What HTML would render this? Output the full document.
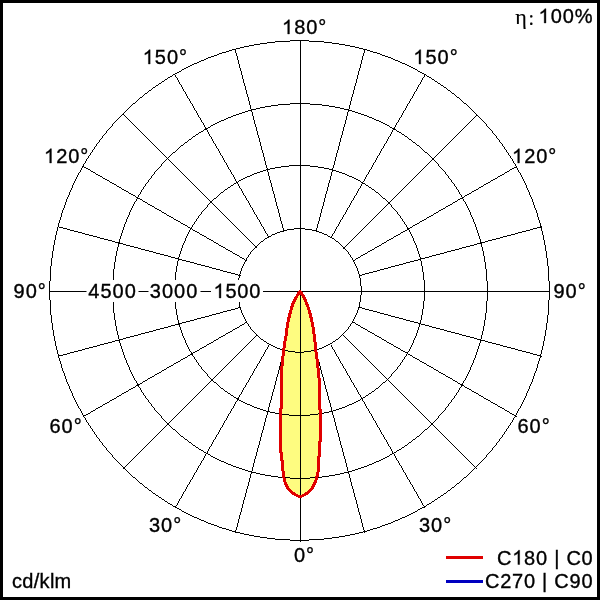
<!DOCTYPE html>
<html><head><meta charset="utf-8"><style>
html,body{margin:0;padding:0;background:#fff;}
body{width:600px;height:600px;overflow:hidden;position:relative;}
svg{position:absolute;left:0;top:0;will-change:transform;}
text{font-family:"Liberation Sans",sans-serif;fill:#000;stroke:#000;stroke-width:0.35px;}
.h{fill:none;stroke:none;}
</style></head><body>
<svg width="600" height="600" viewBox="0 0 600 600">
<rect x="0" y="0" width="600" height="600" fill="#fff"/>
<path d="M300 291.2L296.96 296L294.8 300L292.8 304L291.6 308L290.4 312L289.4 316L288.4 320L287.6 324L287 328L286.4 332L286 336L285.2 340L284.6 344L284 348L283.6 352L283 356L282.6 360L282.2 364L281.8 368L281.5 372L281.5 408L280.5 409L280.5 452L281.5 453L281.5 460L282.5 461L282.5 468L283.2 472L283.6 476L284.4 480L285.6 484L287.6 488L291.2 492L295.2 494.6L300 497L304.8 494.6L308.8 492L312.4 488L314.4 484L316 480L317.2 476L318 472L318.5 468L318.5 457L319.5 456L319.5 442L320.5 441L320.5 410L319.5 409L319.5 384L319.2 380L318.8 376L318.4 372L318 368L317.6 364L317.2 360L316.6 356L316 352L315.6 348L315.2 344L314.8 340L314.2 336L313.8 332L313.2 328L312.4 324L311.6 320L310.6 316L309.6 312L308.4 308L306.8 304L305.2 300L303.2 296Z" fill="#fefc80"/>
<path d="M290 40h19v1h-19zM275 41h15v1h-15zM300 41h1v1h-1zM309 41h15v1h-15zM267 42h8v1h-8zM300 42h1v1h-1zM324 42h8v1h-8zM260 43h7v1h-7zM300 43h1v1h-1zM332 43h7v1h-7zM254 44h6v1h-6zM300 44h1v1h-1zM339 44h6v1h-6zM249 45h5v1h-5zM300 45h1v1h-1zM345 45h5v1h-5zM244 46h5v1h-5zM300 46h1v1h-1zM350 46h5v1h-5zM240 47h4v1h-4zM300 47h1v1h-1zM355 47h4v1h-4zM236 48h4v1h-4zM300 48h1v1h-1zM359 48h4v1h-4zM232 49h4v1h-4zM300 49h1v1h-1zM363 49h4v1h-4zM229 50h3v1h-3zM235 50h1v1h-1zM300 50h1v1h-1zM364 50h1v1h-1zM367 50h3v1h-3zM226 51h3v1h-3zM235 51h1v1h-1zM300 51h1v1h-1zM364 51h1v1h-1zM370 51h3v1h-3zM222 52h4v1h-4zM235 52h1v1h-1zM300 52h1v1h-1zM364 52h1v1h-1zM373 52h4v1h-4zM219 53h3v1h-3zM236 53h1v1h-1zM300 53h1v1h-1zM363 53h1v1h-1zM377 53h3v1h-3zM217 54h2v1h-2zM236 54h1v1h-1zM300 54h1v1h-1zM363 54h1v1h-1zM380 54h2v1h-2zM214 55h3v1h-3zM236 55h1v1h-1zM300 55h1v1h-1zM363 55h1v1h-1zM382 55h3v1h-3zM211 56h3v1h-3zM237 56h1v1h-1zM300 56h1v1h-1zM362 56h1v1h-1zM385 56h3v1h-3zM208 57h3v1h-3zM237 57h1v1h-1zM300 57h1v1h-1zM362 57h1v1h-1zM388 57h3v1h-3zM206 58h2v1h-2zM237 58h1v1h-1zM300 58h1v1h-1zM362 58h1v1h-1zM391 58h2v1h-2zM204 59h2v1h-2zM237 59h1v1h-1zM300 59h1v1h-1zM362 59h1v1h-1zM393 59h2v1h-2zM201 60h3v1h-3zM238 60h1v1h-1zM300 60h1v1h-1zM361 60h1v1h-1zM395 60h3v1h-3zM199 61h2v1h-2zM238 61h1v1h-1zM300 61h1v1h-1zM361 61h1v1h-1zM398 61h2v1h-2zM197 62h2v1h-2zM238 62h1v1h-1zM300 62h1v1h-1zM361 62h1v1h-1zM400 62h2v1h-2zM194 63h3v1h-3zM238 63h1v1h-1zM300 63h1v1h-1zM361 63h1v1h-1zM402 63h3v1h-3zM192 64h2v1h-2zM239 64h1v1h-1zM300 64h1v1h-1zM360 64h1v1h-1zM405 64h2v1h-2zM190 65h2v1h-2zM239 65h1v1h-1zM300 65h1v1h-1zM360 65h1v1h-1zM407 65h2v1h-2zM188 66h2v1h-2zM239 66h1v1h-1zM300 66h1v1h-1zM360 66h1v1h-1zM409 66h2v1h-2zM186 67h2v1h-2zM239 67h1v1h-1zM300 67h1v1h-1zM360 67h1v1h-1zM411 67h2v1h-2zM184 68h2v1h-2zM240 68h1v1h-1zM300 68h1v1h-1zM359 68h1v1h-1zM413 68h2v1h-2zM182 69h2v1h-2zM240 69h1v1h-1zM300 69h1v1h-1zM359 69h1v1h-1zM415 69h2v1h-2zM181 70h1v1h-1zM240 70h1v1h-1zM300 70h1v1h-1zM359 70h1v1h-1zM417 70h1v1h-1zM179 71h2v1h-2zM241 71h1v1h-1zM300 71h1v1h-1zM358 71h1v1h-1zM418 71h2v1h-2zM177 72h2v1h-2zM241 72h1v1h-1zM300 72h1v1h-1zM358 72h1v1h-1zM420 72h2v1h-2zM175 73h2v1h-2zM241 73h1v1h-1zM300 73h1v1h-1zM358 73h1v1h-1zM422 73h2v1h-2zM173 74h2v1h-2zM241 74h1v1h-1zM300 74h1v1h-1zM358 74h1v1h-1zM424 74h2v1h-2zM172 75h1v1h-1zM175 75h1v1h-1zM242 75h1v1h-1zM300 75h1v1h-1zM357 75h1v1h-1zM424 75h1v1h-1zM426 75h1v1h-1zM170 76h2v1h-2zM175 76h1v1h-1zM242 76h1v1h-1zM300 76h1v1h-1zM357 76h1v1h-1zM424 76h1v1h-1zM427 76h2v1h-2zM168 77h2v1h-2zM176 77h1v1h-1zM242 77h1v1h-1zM300 77h1v1h-1zM357 77h1v1h-1zM423 77h1v1h-1zM429 77h2v1h-2zM167 78h1v1h-1zM177 78h1v1h-1zM242 78h1v1h-1zM300 78h1v1h-1zM357 78h1v1h-1zM422 78h1v1h-1zM431 78h1v1h-1zM165 79h2v1h-2zM177 79h1v1h-1zM243 79h1v1h-1zM300 79h1v1h-1zM356 79h1v1h-1zM422 79h1v1h-1zM432 79h2v1h-2zM164 80h1v1h-1zM178 80h1v1h-1zM243 80h1v1h-1zM300 80h1v1h-1zM356 80h1v1h-1zM421 80h1v1h-1zM434 80h1v1h-1zM162 81h2v1h-2zM178 81h1v1h-1zM243 81h1v1h-1zM300 81h1v1h-1zM356 81h1v1h-1zM421 81h1v1h-1zM435 81h2v1h-2zM161 82h1v1h-1zM179 82h1v1h-1zM243 82h1v1h-1zM300 82h1v1h-1zM356 82h1v1h-1zM420 82h1v1h-1zM437 82h1v1h-1zM159 83h2v1h-2zM179 83h1v1h-1zM244 83h1v1h-1zM300 83h1v1h-1zM355 83h1v1h-1zM420 83h1v1h-1zM438 83h2v1h-2zM158 84h1v1h-1zM180 84h1v1h-1zM244 84h1v1h-1zM300 84h1v1h-1zM355 84h1v1h-1zM419 84h1v1h-1zM440 84h1v1h-1zM156 85h2v1h-2zM181 85h1v1h-1zM244 85h1v1h-1zM300 85h1v1h-1zM355 85h1v1h-1zM418 85h1v1h-1zM441 85h2v1h-2zM155 86h1v1h-1zM181 86h1v1h-1zM245 86h1v1h-1zM300 86h1v1h-1zM354 86h1v1h-1zM418 86h1v1h-1zM443 86h1v1h-1zM153 87h2v1h-2zM182 87h1v1h-1zM245 87h1v1h-1zM300 87h1v1h-1zM354 87h1v1h-1zM417 87h1v1h-1zM444 87h2v1h-2zM152 88h1v1h-1zM182 88h1v1h-1zM245 88h1v1h-1zM300 88h1v1h-1zM354 88h1v1h-1zM417 88h1v1h-1zM446 88h1v1h-1zM151 89h1v1h-1zM183 89h1v1h-1zM245 89h1v1h-1zM300 89h1v1h-1zM354 89h1v1h-1zM416 89h1v1h-1zM447 89h1v1h-1zM149 90h2v1h-2zM183 90h1v1h-1zM246 90h1v1h-1zM300 90h1v1h-1zM353 90h1v1h-1zM416 90h1v1h-1zM448 90h2v1h-2zM148 91h1v1h-1zM184 91h1v1h-1zM246 91h1v1h-1zM300 91h1v1h-1zM353 91h1v1h-1zM415 91h1v1h-1zM450 91h1v1h-1zM147 92h1v1h-1zM185 92h1v1h-1zM246 92h1v1h-1zM300 92h1v1h-1zM353 92h1v1h-1zM414 92h1v1h-1zM451 92h1v1h-1zM145 93h2v1h-2zM185 93h1v1h-1zM246 93h1v1h-1zM300 93h1v1h-1zM353 93h1v1h-1zM414 93h1v1h-1zM452 93h2v1h-2zM144 94h1v1h-1zM186 94h1v1h-1zM247 94h1v1h-1zM300 94h1v1h-1zM352 94h1v1h-1zM413 94h1v1h-1zM454 94h1v1h-1zM143 95h1v1h-1zM186 95h1v1h-1zM247 95h1v1h-1zM300 95h1v1h-1zM352 95h1v1h-1zM413 95h1v1h-1zM455 95h1v1h-1zM142 96h1v1h-1zM187 96h1v1h-1zM247 96h1v1h-1zM300 96h1v1h-1zM352 96h1v1h-1zM412 96h1v1h-1zM456 96h1v1h-1zM140 97h2v1h-2zM187 97h1v1h-1zM248 97h1v1h-1zM300 97h1v1h-1zM351 97h1v1h-1zM412 97h1v1h-1zM457 97h2v1h-2zM139 98h1v1h-1zM188 98h1v1h-1zM248 98h1v1h-1zM300 98h1v1h-1zM351 98h1v1h-1zM411 98h1v1h-1zM459 98h1v1h-1zM138 99h1v1h-1zM189 99h1v1h-1zM248 99h1v1h-1zM300 99h1v1h-1zM351 99h1v1h-1zM410 99h1v1h-1zM460 99h1v1h-1zM137 100h1v1h-1zM189 100h1v1h-1zM248 100h1v1h-1zM300 100h1v1h-1zM351 100h1v1h-1zM410 100h1v1h-1zM461 100h1v1h-1zM136 101h1v1h-1zM190 101h1v1h-1zM249 101h1v1h-1zM300 101h1v1h-1zM350 101h1v1h-1zM409 101h1v1h-1zM462 101h1v1h-1zM135 102h1v1h-1zM190 102h1v1h-1zM249 102h1v1h-1zM300 102h1v1h-1zM350 102h1v1h-1zM409 102h1v1h-1zM463 102h1v1h-1zM133 103h2v1h-2zM191 103h1v1h-1zM249 103h1v1h-1zM290 103h20v1h-20zM350 103h1v1h-1zM408 103h1v1h-1zM464 103h2v1h-2zM132 104h1v1h-1zM192 104h1v1h-1zM249 104h1v1h-1zM278 104h12v1h-12zM300 104h1v1h-1zM310 104h12v1h-12zM350 104h1v1h-1zM407 104h1v1h-1zM466 104h1v1h-1zM131 105h1v1h-1zM192 105h1v1h-1zM250 105h1v1h-1zM271 105h7v1h-7zM300 105h1v1h-1zM322 105h7v1h-7zM349 105h1v1h-1zM407 105h1v1h-1zM467 105h1v1h-1zM130 106h1v1h-1zM193 106h1v1h-1zM250 106h1v1h-1zM265 106h6v1h-6zM300 106h1v1h-1zM329 106h6v1h-6zM349 106h1v1h-1zM406 106h1v1h-1zM468 106h1v1h-1zM129 107h1v1h-1zM193 107h1v1h-1zM250 107h1v1h-1zM260 107h5v1h-5zM300 107h1v1h-1zM335 107h5v1h-5zM349 107h1v1h-1zM406 107h1v1h-1zM469 107h1v1h-1zM128 108h1v1h-1zM194 108h1v1h-1zM250 108h1v1h-1zM256 108h4v1h-4zM300 108h1v1h-1zM340 108h4v1h-4zM349 108h1v1h-1zM405 108h1v1h-1zM470 108h1v1h-1zM127 109h1v1h-1zM194 109h1v1h-1zM251 109h5v1h-5zM300 109h1v1h-1zM344 109h5v1h-5zM405 109h1v1h-1zM471 109h1v1h-1zM126 110h1v1h-1zM195 110h1v1h-1zM248 110h4v1h-4zM300 110h1v1h-1zM348 110h4v1h-4zM404 110h1v1h-1zM472 110h1v1h-1zM125 111h1v1h-1zM196 111h1v1h-1zM245 111h3v1h-3zM251 111h1v1h-1zM300 111h1v1h-1zM348 111h1v1h-1zM352 111h3v1h-3zM403 111h1v1h-1zM473 111h1v1h-1zM124 112h1v1h-1zM196 112h1v1h-1zM242 112h3v1h-3zM252 112h1v1h-1zM300 112h1v1h-1zM347 112h1v1h-1zM355 112h3v1h-3zM403 112h1v1h-1zM474 112h1v1h-1zM123 113h1v1h-1zM197 113h1v1h-1zM239 113h3v1h-3zM252 113h1v1h-1zM300 113h1v1h-1zM347 113h1v1h-1zM358 113h3v1h-3zM402 113h1v1h-1zM475 113h1v1h-1zM122 114h2v1h-2zM197 114h1v1h-1zM236 114h3v1h-3zM252 114h1v1h-1zM300 114h1v1h-1zM347 114h1v1h-1zM361 114h3v1h-3zM402 114h1v1h-1zM476 114h1v1h-1zM121 115h1v1h-1zM124 115h1v1h-1zM198 115h1v1h-1zM233 115h3v1h-3zM252 115h1v1h-1zM300 115h1v1h-1zM347 115h1v1h-1zM364 115h3v1h-3zM401 115h1v1h-1zM476 115h2v1h-2zM120 116h1v1h-1zM125 116h1v1h-1zM198 116h1v1h-1zM231 116h2v1h-2zM253 116h1v1h-1zM300 116h1v1h-1zM346 116h1v1h-1zM367 116h2v1h-2zM401 116h1v1h-1zM475 116h1v1h-1zM478 116h1v1h-1zM119 117h1v1h-1zM126 117h1v1h-1zM199 117h1v1h-1zM228 117h3v1h-3zM253 117h1v1h-1zM300 117h1v1h-1zM346 117h1v1h-1zM369 117h3v1h-3zM400 117h1v1h-1zM474 117h1v1h-1zM479 117h1v1h-1zM118 118h1v1h-1zM127 118h1v1h-1zM200 118h1v1h-1zM226 118h2v1h-2zM253 118h1v1h-1zM300 118h1v1h-1zM346 118h1v1h-1zM372 118h2v1h-2zM399 118h1v1h-1zM473 118h1v1h-1zM480 118h1v1h-1zM117 119h1v1h-1zM128 119h1v1h-1zM200 119h1v1h-1zM224 119h2v1h-2zM253 119h1v1h-1zM300 119h1v1h-1zM346 119h1v1h-1zM374 119h2v1h-2zM399 119h1v1h-1zM472 119h1v1h-1zM481 119h1v1h-1zM116 120h1v1h-1zM129 120h1v1h-1zM201 120h1v1h-1zM221 120h3v1h-3zM254 120h1v1h-1zM300 120h1v1h-1zM345 120h1v1h-1zM376 120h3v1h-3zM398 120h1v1h-1zM471 120h1v1h-1zM482 120h1v1h-1zM115 121h1v1h-1zM130 121h1v1h-1zM201 121h1v1h-1zM219 121h2v1h-2zM254 121h1v1h-1zM300 121h1v1h-1zM345 121h1v1h-1zM379 121h2v1h-2zM398 121h1v1h-1zM470 121h1v1h-1zM483 121h1v1h-1zM114 122h1v1h-1zM131 122h1v1h-1zM202 122h1v1h-1zM217 122h2v1h-2zM254 122h1v1h-1zM300 122h1v1h-1zM345 122h1v1h-1zM381 122h2v1h-2zM397 122h1v1h-1zM469 122h1v1h-1zM484 122h1v1h-1zM113 123h1v1h-1zM132 123h1v1h-1zM203 123h1v1h-1zM215 123h2v1h-2zM254 123h1v1h-1zM300 123h1v1h-1zM345 123h1v1h-1zM383 123h2v1h-2zM396 123h1v1h-1zM468 123h1v1h-1zM485 123h1v1h-1zM112 124h1v1h-1zM133 124h1v1h-1zM203 124h1v1h-1zM213 124h2v1h-2zM255 124h1v1h-1zM300 124h1v1h-1zM344 124h1v1h-1zM385 124h2v1h-2zM396 124h1v1h-1zM467 124h1v1h-1zM486 124h1v1h-1zM112 125h1v1h-1zM134 125h1v1h-1zM204 125h1v1h-1zM211 125h2v1h-2zM255 125h1v1h-1zM300 125h1v1h-1zM344 125h1v1h-1zM387 125h2v1h-2zM395 125h1v1h-1zM466 125h1v1h-1zM486 125h1v1h-1zM111 126h1v1h-1zM135 126h1v1h-1zM204 126h1v1h-1zM210 126h1v1h-1zM255 126h1v1h-1zM300 126h1v1h-1zM344 126h1v1h-1zM389 126h1v1h-1zM395 126h1v1h-1zM465 126h1v1h-1zM487 126h1v1h-1zM110 127h1v1h-1zM136 127h1v1h-1zM205 127h1v1h-1zM208 127h2v1h-2zM256 127h1v1h-1zM300 127h1v1h-1zM343 127h1v1h-1zM390 127h2v1h-2zM394 127h1v1h-1zM464 127h1v1h-1zM488 127h1v1h-1zM109 128h1v1h-1zM137 128h1v1h-1zM205 128h3v1h-3zM256 128h1v1h-1zM300 128h1v1h-1zM343 128h1v1h-1zM392 128h3v1h-3zM463 128h1v1h-1zM489 128h1v1h-1zM108 129h1v1h-1zM138 129h1v1h-1zM204 129h3v1h-3zM256 129h1v1h-1zM300 129h1v1h-1zM343 129h1v1h-1zM393 129h3v1h-3zM462 129h1v1h-1zM490 129h1v1h-1zM107 130h1v1h-1zM139 130h1v1h-1zM203 130h1v1h-1zM207 130h1v1h-1zM256 130h1v1h-1zM300 130h1v1h-1zM343 130h1v1h-1zM392 130h1v1h-1zM396 130h1v1h-1zM461 130h1v1h-1zM491 130h1v1h-1zM106 131h1v1h-1zM140 131h1v1h-1zM201 131h2v1h-2zM207 131h1v1h-1zM257 131h1v1h-1zM300 131h1v1h-1zM342 131h1v1h-1zM392 131h1v1h-1zM397 131h2v1h-2zM460 131h1v1h-1zM492 131h1v1h-1zM106 132h1v1h-1zM141 132h1v1h-1zM199 132h2v1h-2zM208 132h1v1h-1zM257 132h1v1h-1zM300 132h1v1h-1zM342 132h1v1h-1zM391 132h1v1h-1zM399 132h2v1h-2zM459 132h1v1h-1zM492 132h1v1h-1zM105 133h1v1h-1zM142 133h1v1h-1zM198 133h1v1h-1zM208 133h1v1h-1zM257 133h1v1h-1zM300 133h1v1h-1zM342 133h1v1h-1zM391 133h1v1h-1zM401 133h1v1h-1zM458 133h1v1h-1zM493 133h1v1h-1zM104 134h1v1h-1zM143 134h1v1h-1zM196 134h2v1h-2zM209 134h1v1h-1zM257 134h1v1h-1zM300 134h1v1h-1zM342 134h1v1h-1zM390 134h1v1h-1zM402 134h2v1h-2zM457 134h1v1h-1zM494 134h1v1h-1zM103 135h1v1h-1zM144 135h1v1h-1zM195 135h1v1h-1zM209 135h1v1h-1zM258 135h1v1h-1zM300 135h1v1h-1zM341 135h1v1h-1zM390 135h1v1h-1zM404 135h1v1h-1zM456 135h1v1h-1zM495 135h1v1h-1zM102 136h1v1h-1zM145 136h1v1h-1zM193 136h2v1h-2zM210 136h1v1h-1zM258 136h1v1h-1zM300 136h1v1h-1zM341 136h1v1h-1zM389 136h1v1h-1zM405 136h2v1h-2zM455 136h1v1h-1zM496 136h1v1h-1zM102 137h1v1h-1zM146 137h1v1h-1zM192 137h1v1h-1zM211 137h1v1h-1zM258 137h1v1h-1zM300 137h1v1h-1zM341 137h1v1h-1zM388 137h1v1h-1zM407 137h1v1h-1zM454 137h1v1h-1zM496 137h1v1h-1zM101 138h1v1h-1zM147 138h1v1h-1zM191 138h1v1h-1zM211 138h1v1h-1zM259 138h1v1h-1zM300 138h1v1h-1zM340 138h1v1h-1zM388 138h1v1h-1zM408 138h1v1h-1zM453 138h1v1h-1zM497 138h1v1h-1zM100 139h1v1h-1zM148 139h1v1h-1zM189 139h2v1h-2zM212 139h1v1h-1zM259 139h1v1h-1zM300 139h1v1h-1zM340 139h1v1h-1zM387 139h1v1h-1zM409 139h2v1h-2zM452 139h1v1h-1zM498 139h1v1h-1zM99 140h1v1h-1zM149 140h1v1h-1zM188 140h1v1h-1zM212 140h1v1h-1zM259 140h1v1h-1zM300 140h1v1h-1zM340 140h1v1h-1zM387 140h1v1h-1zM411 140h1v1h-1zM451 140h1v1h-1zM499 140h1v1h-1zM99 141h1v1h-1zM150 141h1v1h-1zM187 141h1v1h-1zM213 141h1v1h-1zM259 141h1v1h-1zM300 141h1v1h-1zM340 141h1v1h-1zM386 141h1v1h-1zM412 141h1v1h-1zM450 141h1v1h-1zM499 141h1v1h-1zM98 142h1v1h-1zM151 142h1v1h-1zM185 142h2v1h-2zM213 142h1v1h-1zM260 142h1v1h-1zM300 142h1v1h-1zM339 142h1v1h-1zM386 142h1v1h-1zM413 142h2v1h-2zM449 142h1v1h-1zM500 142h1v1h-1zM97 143h1v1h-1zM152 143h1v1h-1zM184 143h1v1h-1zM214 143h1v1h-1zM260 143h1v1h-1zM300 143h1v1h-1zM339 143h1v1h-1zM385 143h1v1h-1zM415 143h1v1h-1zM448 143h1v1h-1zM501 143h1v1h-1zM96 144h1v1h-1zM153 144h1v1h-1zM183 144h1v1h-1zM215 144h1v1h-1zM260 144h1v1h-1zM300 144h1v1h-1zM339 144h1v1h-1zM384 144h1v1h-1zM416 144h1v1h-1zM447 144h1v1h-1zM502 144h1v1h-1zM96 145h1v1h-1zM154 145h1v1h-1zM181 145h2v1h-2zM215 145h1v1h-1zM260 145h1v1h-1zM300 145h1v1h-1zM339 145h1v1h-1zM384 145h1v1h-1zM417 145h2v1h-2zM446 145h1v1h-1zM502 145h1v1h-1zM95 146h1v1h-1zM155 146h1v1h-1zM180 146h1v1h-1zM216 146h1v1h-1zM261 146h1v1h-1zM300 146h1v1h-1zM338 146h1v1h-1zM383 146h1v1h-1zM419 146h1v1h-1zM445 146h1v1h-1zM503 146h1v1h-1zM94 147h1v1h-1zM156 147h1v1h-1zM179 147h1v1h-1zM216 147h1v1h-1zM261 147h1v1h-1zM300 147h1v1h-1zM338 147h1v1h-1zM383 147h1v1h-1zM420 147h1v1h-1zM444 147h1v1h-1zM504 147h1v1h-1zM94 148h1v1h-1zM157 148h1v1h-1zM178 148h1v1h-1zM217 148h1v1h-1zM261 148h1v1h-1zM300 148h1v1h-1zM338 148h1v1h-1zM382 148h1v1h-1zM421 148h1v1h-1zM443 148h1v1h-1zM504 148h1v1h-1zM93 149h1v1h-1zM158 149h1v1h-1zM177 149h1v1h-1zM218 149h1v1h-1zM261 149h1v1h-1zM300 149h1v1h-1zM338 149h1v1h-1zM381 149h1v1h-1zM422 149h1v1h-1zM442 149h1v1h-1zM505 149h1v1h-1zM92 150h1v1h-1zM159 150h1v1h-1zM176 150h1v1h-1zM218 150h1v1h-1zM262 150h1v1h-1zM300 150h1v1h-1zM337 150h1v1h-1zM381 150h1v1h-1zM423 150h1v1h-1zM441 150h1v1h-1zM506 150h1v1h-1zM92 151h1v1h-1zM160 151h1v1h-1zM175 151h1v1h-1zM219 151h1v1h-1zM262 151h1v1h-1zM300 151h1v1h-1zM337 151h1v1h-1zM380 151h1v1h-1zM424 151h1v1h-1zM440 151h1v1h-1zM506 151h1v1h-1zM91 152h1v1h-1zM161 152h1v1h-1zM173 152h2v1h-2zM219 152h1v1h-1zM262 152h1v1h-1zM300 152h1v1h-1zM337 152h1v1h-1zM380 152h1v1h-1zM425 152h2v1h-2zM439 152h1v1h-1zM507 152h1v1h-1zM90 153h1v1h-1zM162 153h1v1h-1zM172 153h1v1h-1zM220 153h1v1h-1zM263 153h1v1h-1zM300 153h1v1h-1zM336 153h1v1h-1zM379 153h1v1h-1zM427 153h1v1h-1zM438 153h1v1h-1zM508 153h1v1h-1zM90 154h1v1h-1zM163 154h1v1h-1zM171 154h1v1h-1zM220 154h1v1h-1zM263 154h1v1h-1zM300 154h1v1h-1zM336 154h1v1h-1zM379 154h1v1h-1zM428 154h1v1h-1zM437 154h1v1h-1zM508 154h1v1h-1zM89 155h1v1h-1zM164 155h1v1h-1zM170 155h1v1h-1zM221 155h1v1h-1zM263 155h1v1h-1zM300 155h1v1h-1zM336 155h1v1h-1zM378 155h1v1h-1zM429 155h1v1h-1zM436 155h1v1h-1zM509 155h1v1h-1zM88 156h1v1h-1zM165 156h1v1h-1zM169 156h1v1h-1zM222 156h1v1h-1zM263 156h1v1h-1zM300 156h1v1h-1zM336 156h1v1h-1zM377 156h1v1h-1zM430 156h1v1h-1zM435 156h1v1h-1zM510 156h1v1h-1zM88 157h1v1h-1zM166 157h1v1h-1zM168 157h1v1h-1zM222 157h1v1h-1zM264 157h1v1h-1zM300 157h1v1h-1zM335 157h1v1h-1zM377 157h1v1h-1zM431 157h1v1h-1zM434 157h1v1h-1zM510 157h1v1h-1zM87 158h1v1h-1zM167 158h1v1h-1zM223 158h1v1h-1zM264 158h1v1h-1zM300 158h1v1h-1zM335 158h1v1h-1zM376 158h1v1h-1zM432 158h2v1h-2zM511 158h1v1h-1zM86 159h1v1h-1zM166 159h1v1h-1zM168 159h1v1h-1zM223 159h1v1h-1zM264 159h1v1h-1zM300 159h1v1h-1zM335 159h1v1h-1zM376 159h1v1h-1zM432 159h2v1h-2zM512 159h1v1h-1zM86 160h1v1h-1zM165 160h1v1h-1zM169 160h1v1h-1zM224 160h1v1h-1zM264 160h1v1h-1zM300 160h1v1h-1zM335 160h1v1h-1zM375 160h1v1h-1zM431 160h1v1h-1zM434 160h1v1h-1zM512 160h1v1h-1zM85 161h1v1h-1zM164 161h1v1h-1zM170 161h1v1h-1zM224 161h1v1h-1zM265 161h1v1h-1zM300 161h1v1h-1zM334 161h1v1h-1zM375 161h1v1h-1zM430 161h1v1h-1zM435 161h1v1h-1zM513 161h1v1h-1zM85 162h1v1h-1zM163 162h1v1h-1zM171 162h1v1h-1zM225 162h1v1h-1zM265 162h1v1h-1zM300 162h1v1h-1zM334 162h1v1h-1zM374 162h1v1h-1zM429 162h1v1h-1zM436 162h1v1h-1zM513 162h1v1h-1zM84 163h1v1h-1zM162 163h1v1h-1zM172 163h1v1h-1zM226 163h1v1h-1zM265 163h1v1h-1zM300 163h1v1h-1zM334 163h1v1h-1zM373 163h1v1h-1zM428 163h1v1h-1zM437 163h1v1h-1zM514 163h1v1h-1zM83 164h1v1h-1zM161 164h1v1h-1zM173 164h1v1h-1zM226 164h1v1h-1zM265 164h1v1h-1zM300 164h1v1h-1zM334 164h1v1h-1zM373 164h1v1h-1zM427 164h1v1h-1zM438 164h1v1h-1zM515 164h1v1h-1zM83 165h1v1h-1zM161 165h1v1h-1zM174 165h1v1h-1zM227 165h1v1h-1zM266 165h1v1h-1zM289 165h21v1h-21zM333 165h1v1h-1zM372 165h1v1h-1zM426 165h1v1h-1zM438 165h1v1h-1zM515 165h1v1h-1zM82 166h2v1h-2zM160 166h1v1h-1zM175 166h1v1h-1zM227 166h1v1h-1zM266 166h1v1h-1zM281 166h8v1h-8zM300 166h1v1h-1zM310 166h8v1h-8zM333 166h1v1h-1zM372 166h1v1h-1zM425 166h1v1h-1zM439 166h1v1h-1zM516 166h1v1h-1zM82 167h1v1h-1zM84 167h2v1h-2zM159 167h1v1h-1zM176 167h1v1h-1zM228 167h1v1h-1zM266 167h1v1h-1zM275 167h6v1h-6zM300 167h1v1h-1zM318 167h6v1h-6zM333 167h1v1h-1zM371 167h1v1h-1zM424 167h1v1h-1zM440 167h1v1h-1zM514 167h3v1h-3zM81 168h1v1h-1zM86 168h2v1h-2zM158 168h1v1h-1zM177 168h1v1h-1zM228 168h1v1h-1zM267 168h1v1h-1zM270 168h5v1h-5zM300 168h1v1h-1zM324 168h5v1h-5zM332 168h1v1h-1zM371 168h1v1h-1zM423 168h1v1h-1zM441 168h1v1h-1zM512 168h2v1h-2zM517 168h1v1h-1zM81 169h1v1h-1zM88 169h2v1h-2zM157 169h1v1h-1zM178 169h1v1h-1zM229 169h1v1h-1zM266 169h4v1h-4zM300 169h1v1h-1zM329 169h4v1h-4zM370 169h1v1h-1zM422 169h1v1h-1zM442 169h1v1h-1zM510 169h2v1h-2zM517 169h1v1h-1zM80 170h1v1h-1zM90 170h1v1h-1zM156 170h1v1h-1zM179 170h1v1h-1zM230 170h1v1h-1zM263 170h3v1h-3zM267 170h1v1h-1zM300 170h1v1h-1zM332 170h4v1h-4zM369 170h1v1h-1zM421 170h1v1h-1zM443 170h1v1h-1zM509 170h1v1h-1zM518 170h1v1h-1zM80 171h1v1h-1zM91 171h2v1h-2zM155 171h1v1h-1zM180 171h1v1h-1zM230 171h1v1h-1zM260 171h3v1h-3zM267 171h1v1h-1zM300 171h1v1h-1zM332 171h1v1h-1zM336 171h3v1h-3zM369 171h1v1h-1zM420 171h1v1h-1zM444 171h1v1h-1zM507 171h2v1h-2zM518 171h1v1h-1zM79 172h1v1h-1zM93 172h2v1h-2zM154 172h1v1h-1zM181 172h1v1h-1zM231 172h1v1h-1zM257 172h3v1h-3zM268 172h1v1h-1zM300 172h1v1h-1zM331 172h1v1h-1zM339 172h3v1h-3zM368 172h1v1h-1zM419 172h1v1h-1zM445 172h1v1h-1zM505 172h2v1h-2zM519 172h1v1h-1zM78 173h1v1h-1zM95 173h1v1h-1zM154 173h1v1h-1zM182 173h1v1h-1zM231 173h1v1h-1zM254 173h3v1h-3zM268 173h1v1h-1zM300 173h1v1h-1zM331 173h1v1h-1zM342 173h3v1h-3zM368 173h1v1h-1zM418 173h1v1h-1zM445 173h1v1h-1zM504 173h1v1h-1zM520 173h1v1h-1zM78 174h1v1h-1zM96 174h2v1h-2zM153 174h1v1h-1zM183 174h1v1h-1zM232 174h1v1h-1zM252 174h2v1h-2zM268 174h1v1h-1zM300 174h1v1h-1zM331 174h1v1h-1zM345 174h2v1h-2zM367 174h1v1h-1zM417 174h1v1h-1zM446 174h1v1h-1zM502 174h2v1h-2zM520 174h1v1h-1zM77 175h1v1h-1zM98 175h2v1h-2zM152 175h1v1h-1zM184 175h1v1h-1zM233 175h1v1h-1zM250 175h2v1h-2zM268 175h1v1h-1zM300 175h1v1h-1zM331 175h1v1h-1zM347 175h2v1h-2zM366 175h1v1h-1zM416 175h1v1h-1zM447 175h1v1h-1zM500 175h2v1h-2zM521 175h1v1h-1zM77 176h1v1h-1zM100 176h2v1h-2zM151 176h1v1h-1zM185 176h1v1h-1zM233 176h1v1h-1zM247 176h3v1h-3zM269 176h1v1h-1zM300 176h1v1h-1zM330 176h1v1h-1zM349 176h3v1h-3zM366 176h1v1h-1zM415 176h1v1h-1zM448 176h1v1h-1zM498 176h2v1h-2zM521 176h1v1h-1zM76 177h1v1h-1zM102 177h1v1h-1zM151 177h1v1h-1zM186 177h1v1h-1zM234 177h1v1h-1zM245 177h2v1h-2zM269 177h1v1h-1zM300 177h1v1h-1zM330 177h1v1h-1zM352 177h2v1h-2zM365 177h1v1h-1zM414 177h1v1h-1zM448 177h1v1h-1zM497 177h1v1h-1zM522 177h1v1h-1zM76 178h1v1h-1zM103 178h2v1h-2zM150 178h1v1h-1zM187 178h1v1h-1zM234 178h1v1h-1zM243 178h2v1h-2zM269 178h1v1h-1zM300 178h1v1h-1zM330 178h1v1h-1zM354 178h2v1h-2zM365 178h1v1h-1zM413 178h1v1h-1zM449 178h1v1h-1zM495 178h2v1h-2zM522 178h1v1h-1zM75 179h1v1h-1zM105 179h2v1h-2zM149 179h1v1h-1zM188 179h1v1h-1zM235 179h1v1h-1zM241 179h2v1h-2zM269 179h1v1h-1zM300 179h1v1h-1zM330 179h1v1h-1zM356 179h2v1h-2zM364 179h1v1h-1zM412 179h1v1h-1zM450 179h1v1h-1zM493 179h2v1h-2zM523 179h1v1h-1zM75 180h1v1h-1zM107 180h2v1h-2zM148 180h1v1h-1zM189 180h1v1h-1zM235 180h1v1h-1zM239 180h2v1h-2zM270 180h1v1h-1zM300 180h1v1h-1zM329 180h1v1h-1zM358 180h2v1h-2zM364 180h1v1h-1zM411 180h1v1h-1zM451 180h1v1h-1zM491 180h2v1h-2zM523 180h1v1h-1zM74 181h1v1h-1zM109 181h1v1h-1zM148 181h1v1h-1zM190 181h1v1h-1zM236 181h1v1h-1zM238 181h1v1h-1zM270 181h1v1h-1zM300 181h1v1h-1zM329 181h1v1h-1zM360 181h1v1h-1zM363 181h1v1h-1zM410 181h1v1h-1zM451 181h1v1h-1zM490 181h1v1h-1zM524 181h1v1h-1zM74 182h1v1h-1zM110 182h2v1h-2zM147 182h1v1h-1zM191 182h1v1h-1zM236 182h2v1h-2zM270 182h1v1h-1zM300 182h1v1h-1zM329 182h1v1h-1zM361 182h2v1h-2zM409 182h1v1h-1zM452 182h1v1h-1zM488 182h2v1h-2zM524 182h1v1h-1zM73 183h1v1h-1zM112 183h2v1h-2zM146 183h1v1h-1zM192 183h1v1h-1zM234 183h2v1h-2zM237 183h1v1h-1zM271 183h1v1h-1zM300 183h1v1h-1zM328 183h1v1h-1zM362 183h3v1h-3zM408 183h1v1h-1zM453 183h1v1h-1zM486 183h2v1h-2zM525 183h1v1h-1zM73 184h1v1h-1zM114 184h2v1h-2zM145 184h1v1h-1zM193 184h1v1h-1zM233 184h1v1h-1zM238 184h1v1h-1zM271 184h1v1h-1zM300 184h1v1h-1zM328 184h1v1h-1zM361 184h1v1h-1zM365 184h1v1h-1zM407 184h1v1h-1zM454 184h1v1h-1zM484 184h2v1h-2zM525 184h1v1h-1zM72 185h1v1h-1zM116 185h1v1h-1zM145 185h1v1h-1zM194 185h1v1h-1zM231 185h2v1h-2zM238 185h1v1h-1zM271 185h1v1h-1zM300 185h1v1h-1zM328 185h1v1h-1zM361 185h1v1h-1zM366 185h2v1h-2zM406 185h1v1h-1zM454 185h1v1h-1zM483 185h1v1h-1zM526 185h1v1h-1zM72 186h1v1h-1zM117 186h2v1h-2zM144 186h1v1h-1zM195 186h1v1h-1zM230 186h1v1h-1zM239 186h1v1h-1zM271 186h1v1h-1zM300 186h1v1h-1zM328 186h1v1h-1zM360 186h1v1h-1zM368 186h1v1h-1zM405 186h1v1h-1zM455 186h1v1h-1zM481 186h2v1h-2zM526 186h1v1h-1zM72 187h1v1h-1zM119 187h2v1h-2zM143 187h1v1h-1zM196 187h1v1h-1zM228 187h2v1h-2zM239 187h1v1h-1zM272 187h1v1h-1zM300 187h1v1h-1zM327 187h1v1h-1zM360 187h1v1h-1zM369 187h2v1h-2zM404 187h1v1h-1zM456 187h1v1h-1zM479 187h2v1h-2zM526 187h1v1h-1zM71 188h1v1h-1zM121 188h1v1h-1zM143 188h1v1h-1zM197 188h1v1h-1zM227 188h1v1h-1zM240 188h1v1h-1zM272 188h1v1h-1zM300 188h1v1h-1zM327 188h1v1h-1zM359 188h1v1h-1zM371 188h1v1h-1zM403 188h1v1h-1zM456 188h1v1h-1zM478 188h1v1h-1zM527 188h1v1h-1zM71 189h1v1h-1zM122 189h2v1h-2zM142 189h1v1h-1zM198 189h1v1h-1zM225 189h2v1h-2zM241 189h1v1h-1zM272 189h1v1h-1zM300 189h1v1h-1zM327 189h1v1h-1zM358 189h1v1h-1zM372 189h2v1h-2zM402 189h1v1h-1zM457 189h1v1h-1zM476 189h2v1h-2zM527 189h1v1h-1zM70 190h1v1h-1zM124 190h2v1h-2zM141 190h1v1h-1zM199 190h1v1h-1zM224 190h1v1h-1zM241 190h1v1h-1zM272 190h1v1h-1zM300 190h1v1h-1zM327 190h1v1h-1zM358 190h1v1h-1zM374 190h1v1h-1zM401 190h1v1h-1zM458 190h1v1h-1zM474 190h2v1h-2zM528 190h1v1h-1zM70 191h1v1h-1zM126 191h2v1h-2zM141 191h1v1h-1zM200 191h1v1h-1zM223 191h1v1h-1zM242 191h1v1h-1zM273 191h1v1h-1zM300 191h1v1h-1zM326 191h1v1h-1zM357 191h1v1h-1zM375 191h1v1h-1zM400 191h1v1h-1zM458 191h1v1h-1zM472 191h2v1h-2zM528 191h1v1h-1zM69 192h1v1h-1zM128 192h1v1h-1zM140 192h1v1h-1zM201 192h1v1h-1zM221 192h2v1h-2zM242 192h1v1h-1zM273 192h1v1h-1zM300 192h1v1h-1zM326 192h1v1h-1zM357 192h1v1h-1zM376 192h2v1h-2zM399 192h1v1h-1zM459 192h1v1h-1zM471 192h1v1h-1zM529 192h1v1h-1zM69 193h1v1h-1zM129 193h2v1h-2zM140 193h1v1h-1zM202 193h1v1h-1zM220 193h1v1h-1zM243 193h1v1h-1zM273 193h1v1h-1zM300 193h1v1h-1zM326 193h1v1h-1zM356 193h1v1h-1zM378 193h1v1h-1zM398 193h1v1h-1zM459 193h1v1h-1zM469 193h2v1h-2zM529 193h1v1h-1zM69 194h1v1h-1zM131 194h2v1h-2zM139 194h1v1h-1zM203 194h1v1h-1zM219 194h1v1h-1zM243 194h1v1h-1zM274 194h1v1h-1zM300 194h1v1h-1zM325 194h1v1h-1zM356 194h1v1h-1zM379 194h1v1h-1zM397 194h1v1h-1zM460 194h1v1h-1zM467 194h2v1h-2zM529 194h1v1h-1zM68 195h1v1h-1zM133 195h2v1h-2zM138 195h1v1h-1zM204 195h1v1h-1zM218 195h1v1h-1zM244 195h1v1h-1zM274 195h1v1h-1zM300 195h1v1h-1zM325 195h1v1h-1zM355 195h1v1h-1zM380 195h1v1h-1zM396 195h1v1h-1zM461 195h1v1h-1zM465 195h2v1h-2zM530 195h1v1h-1zM68 196h1v1h-1zM135 196h1v1h-1zM138 196h1v1h-1zM205 196h1v1h-1zM217 196h1v1h-1zM245 196h1v1h-1zM274 196h1v1h-1zM300 196h1v1h-1zM325 196h1v1h-1zM354 196h1v1h-1zM381 196h1v1h-1zM395 196h1v1h-1zM461 196h1v1h-1zM464 196h1v1h-1zM530 196h1v1h-1zM67 197h1v1h-1zM136 197h2v1h-2zM206 197h1v1h-1zM216 197h1v1h-1zM245 197h1v1h-1zM274 197h1v1h-1zM300 197h1v1h-1zM325 197h1v1h-1zM354 197h1v1h-1zM382 197h1v1h-1zM394 197h1v1h-1zM462 197h2v1h-2zM531 197h1v1h-1zM67 198h1v1h-1zM137 198h3v1h-3zM207 198h1v1h-1zM214 198h2v1h-2zM246 198h1v1h-1zM275 198h1v1h-1zM300 198h1v1h-1zM324 198h1v1h-1zM353 198h1v1h-1zM383 198h2v1h-2zM393 198h1v1h-1zM460 198h3v1h-3zM531 198h1v1h-1zM66 199h1v1h-1zM136 199h1v1h-1zM140 199h2v1h-2zM208 199h1v1h-1zM213 199h1v1h-1zM246 199h1v1h-1zM275 199h1v1h-1zM300 199h1v1h-1zM324 199h1v1h-1zM353 199h1v1h-1zM385 199h1v1h-1zM392 199h1v1h-1zM458 199h2v1h-2zM463 199h1v1h-1zM532 199h1v1h-1zM66 200h1v1h-1zM136 200h1v1h-1zM142 200h1v1h-1zM209 200h1v1h-1zM212 200h1v1h-1zM247 200h1v1h-1zM275 200h1v1h-1zM300 200h1v1h-1zM324 200h1v1h-1zM352 200h1v1h-1zM386 200h1v1h-1zM391 200h1v1h-1zM457 200h1v1h-1zM463 200h1v1h-1zM532 200h1v1h-1zM66 201h1v1h-1zM135 201h1v1h-1zM143 201h2v1h-2zM210 201h2v1h-2zM248 201h1v1h-1zM275 201h1v1h-1zM300 201h1v1h-1zM324 201h1v1h-1zM351 201h1v1h-1zM387 201h1v1h-1zM390 201h1v1h-1zM455 201h2v1h-2zM464 201h1v1h-1zM532 201h1v1h-1zM65 202h1v1h-1zM134 202h1v1h-1zM145 202h2v1h-2zM210 202h2v1h-2zM248 202h1v1h-1zM276 202h1v1h-1zM300 202h1v1h-1zM323 202h1v1h-1zM351 202h1v1h-1zM388 202h2v1h-2zM453 202h2v1h-2zM465 202h1v1h-1zM533 202h1v1h-1zM65 203h1v1h-1zM134 203h1v1h-1zM147 203h1v1h-1zM209 203h1v1h-1zM212 203h1v1h-1zM249 203h1v1h-1zM276 203h1v1h-1zM300 203h1v1h-1zM323 203h1v1h-1zM350 203h1v1h-1zM388 203h2v1h-2zM452 203h1v1h-1zM465 203h1v1h-1zM533 203h1v1h-1zM65 204h1v1h-1zM133 204h1v1h-1zM148 204h2v1h-2zM208 204h1v1h-1zM213 204h1v1h-1zM249 204h1v1h-1zM276 204h1v1h-1zM300 204h1v1h-1zM323 204h1v1h-1zM350 204h1v1h-1zM387 204h1v1h-1zM390 204h1v1h-1zM450 204h2v1h-2zM466 204h1v1h-1zM533 204h1v1h-1zM64 205h1v1h-1zM133 205h1v1h-1zM150 205h2v1h-2zM207 205h1v1h-1zM214 205h1v1h-1zM250 205h1v1h-1zM276 205h1v1h-1zM300 205h1v1h-1zM323 205h1v1h-1zM349 205h1v1h-1zM386 205h1v1h-1zM391 205h1v1h-1zM448 205h2v1h-2zM466 205h1v1h-1zM534 205h1v1h-1zM64 206h1v1h-1zM132 206h1v1h-1zM152 206h2v1h-2zM207 206h1v1h-1zM215 206h1v1h-1zM250 206h1v1h-1zM277 206h1v1h-1zM300 206h1v1h-1zM322 206h1v1h-1zM349 206h1v1h-1zM385 206h1v1h-1zM391 206h1v1h-1zM446 206h2v1h-2zM467 206h1v1h-1zM534 206h1v1h-1zM64 207h1v1h-1zM132 207h1v1h-1zM154 207h1v1h-1zM206 207h1v1h-1zM216 207h1v1h-1zM251 207h1v1h-1zM277 207h1v1h-1zM300 207h1v1h-1zM322 207h1v1h-1zM348 207h1v1h-1zM384 207h1v1h-1zM392 207h1v1h-1zM445 207h1v1h-1zM467 207h1v1h-1zM534 207h1v1h-1zM63 208h1v1h-1zM131 208h1v1h-1zM155 208h2v1h-2zM205 208h1v1h-1zM217 208h1v1h-1zM252 208h1v1h-1zM277 208h1v1h-1zM300 208h1v1h-1zM322 208h1v1h-1zM347 208h1v1h-1zM383 208h1v1h-1zM393 208h1v1h-1zM443 208h2v1h-2zM468 208h1v1h-1zM535 208h1v1h-1zM63 209h1v1h-1zM131 209h1v1h-1zM157 209h2v1h-2zM204 209h1v1h-1zM218 209h1v1h-1zM252 209h1v1h-1zM278 209h1v1h-1zM300 209h1v1h-1zM321 209h1v1h-1zM347 209h1v1h-1zM382 209h1v1h-1zM394 209h1v1h-1zM441 209h2v1h-2zM468 209h1v1h-1zM535 209h1v1h-1zM62 210h1v1h-1zM130 210h1v1h-1zM159 210h2v1h-2zM203 210h1v1h-1zM219 210h1v1h-1zM253 210h1v1h-1zM278 210h1v1h-1zM300 210h1v1h-1zM321 210h1v1h-1zM346 210h1v1h-1zM381 210h1v1h-1zM395 210h1v1h-1zM439 210h2v1h-2zM469 210h1v1h-1zM536 210h1v1h-1zM62 211h1v1h-1zM130 211h1v1h-1zM161 211h1v1h-1zM202 211h1v1h-1zM220 211h1v1h-1zM253 211h1v1h-1zM278 211h1v1h-1zM300 211h1v1h-1zM321 211h1v1h-1zM346 211h1v1h-1zM380 211h1v1h-1zM396 211h1v1h-1zM438 211h1v1h-1zM469 211h1v1h-1zM536 211h1v1h-1zM62 212h1v1h-1zM129 212h1v1h-1zM162 212h2v1h-2zM201 212h1v1h-1zM221 212h1v1h-1zM254 212h1v1h-1zM278 212h1v1h-1zM300 212h1v1h-1zM321 212h1v1h-1zM345 212h1v1h-1zM379 212h1v1h-1zM397 212h1v1h-1zM436 212h2v1h-2zM470 212h1v1h-1zM536 212h1v1h-1zM61 213h1v1h-1zM129 213h1v1h-1zM164 213h2v1h-2zM201 213h1v1h-1zM222 213h1v1h-1zM254 213h1v1h-1zM279 213h1v1h-1zM300 213h1v1h-1zM320 213h1v1h-1zM345 213h1v1h-1zM378 213h1v1h-1zM397 213h1v1h-1zM434 213h2v1h-2zM470 213h1v1h-1zM537 213h1v1h-1zM61 214h1v1h-1zM129 214h1v1h-1zM166 214h1v1h-1zM200 214h1v1h-1zM223 214h1v1h-1zM255 214h1v1h-1zM279 214h1v1h-1zM300 214h1v1h-1zM320 214h1v1h-1zM344 214h1v1h-1zM377 214h1v1h-1zM398 214h1v1h-1zM433 214h1v1h-1zM470 214h1v1h-1zM537 214h1v1h-1zM61 215h1v1h-1zM128 215h1v1h-1zM167 215h2v1h-2zM199 215h1v1h-1zM224 215h1v1h-1zM256 215h1v1h-1zM279 215h1v1h-1zM300 215h1v1h-1zM320 215h1v1h-1zM343 215h1v1h-1zM376 215h1v1h-1zM399 215h1v1h-1zM431 215h2v1h-2zM471 215h1v1h-1zM537 215h1v1h-1zM61 216h1v1h-1zM128 216h1v1h-1zM169 216h2v1h-2zM198 216h1v1h-1zM225 216h1v1h-1zM256 216h1v1h-1zM279 216h1v1h-1zM300 216h1v1h-1zM320 216h1v1h-1zM343 216h1v1h-1zM375 216h1v1h-1zM400 216h1v1h-1zM429 216h2v1h-2zM471 216h1v1h-1zM537 216h1v1h-1zM60 217h1v1h-1zM127 217h1v1h-1zM171 217h2v1h-2zM198 217h1v1h-1zM226 217h1v1h-1zM257 217h1v1h-1zM280 217h1v1h-1zM300 217h1v1h-1zM319 217h1v1h-1zM342 217h1v1h-1zM374 217h1v1h-1zM400 217h1v1h-1zM427 217h2v1h-2zM472 217h1v1h-1zM538 217h1v1h-1zM60 218h1v1h-1zM127 218h1v1h-1zM173 218h1v1h-1zM197 218h1v1h-1zM227 218h1v1h-1zM257 218h1v1h-1zM280 218h1v1h-1zM300 218h1v1h-1zM319 218h1v1h-1zM342 218h1v1h-1zM373 218h1v1h-1zM401 218h1v1h-1zM426 218h1v1h-1zM472 218h1v1h-1zM538 218h1v1h-1zM60 219h1v1h-1zM126 219h1v1h-1zM174 219h2v1h-2zM196 219h1v1h-1zM228 219h1v1h-1zM258 219h1v1h-1zM280 219h1v1h-1zM300 219h1v1h-1zM319 219h1v1h-1zM341 219h1v1h-1zM372 219h1v1h-1zM402 219h1v1h-1zM424 219h2v1h-2zM473 219h1v1h-1zM538 219h1v1h-1zM59 220h1v1h-1zM126 220h1v1h-1zM176 220h2v1h-2zM196 220h1v1h-1zM229 220h1v1h-1zM259 220h1v1h-1zM280 220h1v1h-1zM300 220h1v1h-1zM319 220h1v1h-1zM340 220h1v1h-1zM371 220h1v1h-1zM402 220h1v1h-1zM422 220h2v1h-2zM473 220h1v1h-1zM539 220h1v1h-1zM59 221h1v1h-1zM126 221h1v1h-1zM178 221h2v1h-2zM195 221h1v1h-1zM230 221h1v1h-1zM259 221h1v1h-1zM281 221h1v1h-1zM300 221h1v1h-1zM318 221h1v1h-1zM340 221h1v1h-1zM370 221h1v1h-1zM403 221h1v1h-1zM420 221h2v1h-2zM473 221h1v1h-1zM539 221h1v1h-1zM59 222h1v1h-1zM125 222h1v1h-1zM180 222h1v1h-1zM194 222h1v1h-1zM231 222h1v1h-1zM260 222h1v1h-1zM281 222h1v1h-1zM300 222h1v1h-1zM318 222h1v1h-1zM339 222h1v1h-1zM369 222h1v1h-1zM404 222h1v1h-1zM419 222h1v1h-1zM474 222h1v1h-1zM539 222h1v1h-1zM58 223h1v1h-1zM125 223h1v1h-1zM181 223h2v1h-2zM194 223h1v1h-1zM232 223h1v1h-1zM260 223h1v1h-1zM281 223h1v1h-1zM300 223h1v1h-1zM318 223h1v1h-1zM339 223h1v1h-1zM368 223h1v1h-1zM404 223h1v1h-1zM417 223h2v1h-2zM474 223h1v1h-1zM540 223h1v1h-1zM58 224h1v1h-1zM124 224h1v1h-1zM183 224h2v1h-2zM193 224h1v1h-1zM233 224h1v1h-1zM261 224h1v1h-1zM282 224h1v1h-1zM300 224h1v1h-1zM317 224h1v1h-1zM338 224h1v1h-1zM367 224h1v1h-1zM405 224h1v1h-1zM415 224h2v1h-2zM475 224h1v1h-1zM540 224h1v1h-1zM58 225h1v1h-1zM124 225h1v1h-1zM185 225h2v1h-2zM192 225h1v1h-1zM234 225h1v1h-1zM261 225h1v1h-1zM282 225h1v1h-1zM300 225h1v1h-1zM317 225h1v1h-1zM338 225h1v1h-1zM366 225h1v1h-1zM406 225h1v1h-1zM413 225h2v1h-2zM475 225h1v1h-1zM540 225h1v1h-1zM58 226h1v1h-1zM124 226h1v1h-1zM187 226h1v1h-1zM192 226h1v1h-1zM235 226h1v1h-1zM262 226h1v1h-1zM282 226h1v1h-1zM300 226h1v1h-1zM317 226h1v1h-1zM337 226h1v1h-1zM365 226h1v1h-1zM406 226h1v1h-1zM412 226h1v1h-1zM475 226h1v1h-1zM540 226h2v1h-2zM57 227h1v1h-1zM59 227h4v1h-4zM123 227h1v1h-1zM188 227h2v1h-2zM191 227h1v1h-1zM236 227h1v1h-1zM263 227h1v1h-1zM282 227h1v1h-1zM300 227h1v1h-1zM317 227h1v1h-1zM336 227h1v1h-1zM364 227h1v1h-1zM407 227h1v1h-1zM410 227h2v1h-2zM476 227h1v1h-1zM537 227h5v1h-5zM57 228h1v1h-1zM63 228h4v1h-4zM123 228h1v1h-1zM190 228h2v1h-2zM237 228h1v1h-1zM263 228h1v1h-1zM283 228h1v1h-1zM294 228h11v1h-11zM316 228h1v1h-1zM336 228h1v1h-1zM363 228h1v1h-1zM407 228h3v1h-3zM476 228h1v1h-1zM533 228h4v1h-4zM541 228h1v1h-1zM57 229h1v1h-1zM67 229h3v1h-3zM123 229h1v1h-1zM190 229h1v1h-1zM192 229h1v1h-1zM238 229h1v1h-1zM264 229h1v1h-1zM283 229h1v1h-1zM287 229h7v1h-7zM300 229h1v1h-1zM305 229h7v1h-7zM316 229h1v1h-1zM335 229h1v1h-1zM362 229h1v1h-1zM407 229h2v1h-2zM476 229h1v1h-1zM530 229h3v1h-3zM541 229h1v1h-1zM57 230h1v1h-1zM70 230h4v1h-4zM122 230h1v1h-1zM189 230h1v1h-1zM193 230h2v1h-2zM239 230h1v1h-1zM264 230h1v1h-1zM283 230h4v1h-4zM300 230h1v1h-1zM312 230h5v1h-5zM335 230h1v1h-1zM361 230h1v1h-1zM405 230h2v1h-2zM409 230h1v1h-1zM477 230h1v1h-1zM526 230h4v1h-4zM541 230h1v1h-1zM56 231h1v1h-1zM74 231h4v1h-4zM122 231h1v1h-1zM189 231h1v1h-1zM195 231h2v1h-2zM240 231h1v1h-1zM265 231h1v1h-1zM280 231h4v1h-4zM300 231h1v1h-1zM316 231h3v1h-3zM334 231h1v1h-1zM360 231h1v1h-1zM403 231h2v1h-2zM409 231h1v1h-1zM477 231h1v1h-1zM522 231h4v1h-4zM542 231h1v1h-1zM56 232h1v1h-1zM78 232h4v1h-4zM122 232h1v1h-1zM188 232h1v1h-1zM197 232h2v1h-2zM241 232h1v1h-1zM265 232h1v1h-1zM277 232h3v1h-3zM300 232h1v1h-1zM319 232h3v1h-3zM334 232h1v1h-1zM359 232h1v1h-1zM401 232h2v1h-2zM410 232h1v1h-1zM477 232h1v1h-1zM518 232h4v1h-4zM542 232h1v1h-1zM56 233h1v1h-1zM82 233h3v1h-3zM121 233h1v1h-1zM188 233h1v1h-1zM199 233h1v1h-1zM242 233h1v1h-1zM266 233h1v1h-1zM275 233h2v1h-2zM300 233h1v1h-1zM322 233h2v1h-2zM333 233h1v1h-1zM358 233h1v1h-1zM400 233h1v1h-1zM410 233h1v1h-1zM478 233h1v1h-1zM515 233h3v1h-3zM542 233h1v1h-1zM56 234h1v1h-1zM85 234h4v1h-4zM121 234h1v1h-1zM187 234h1v1h-1zM200 234h2v1h-2zM243 234h1v1h-1zM267 234h1v1h-1zM272 234h3v1h-3zM300 234h1v1h-1zM324 234h3v1h-3zM332 234h1v1h-1zM357 234h1v1h-1zM398 234h2v1h-2zM411 234h1v1h-1zM478 234h1v1h-1zM511 234h4v1h-4zM542 234h1v1h-1zM55 235h1v1h-1zM89 235h4v1h-4zM121 235h1v1h-1zM187 235h1v1h-1zM202 235h2v1h-2zM244 235h1v1h-1zM267 235h1v1h-1zM271 235h1v1h-1zM300 235h1v1h-1zM327 235h1v1h-1zM332 235h1v1h-1zM356 235h1v1h-1zM396 235h2v1h-2zM411 235h1v1h-1zM478 235h1v1h-1zM507 235h4v1h-4zM543 235h1v1h-1zM55 236h1v1h-1zM93 236h4v1h-4zM120 236h1v1h-1zM186 236h1v1h-1zM204 236h2v1h-2zM245 236h1v1h-1zM268 236h3v1h-3zM300 236h1v1h-1zM328 236h2v1h-2zM331 236h1v1h-1zM355 236h1v1h-1zM394 236h2v1h-2zM412 236h1v1h-1zM479 236h1v1h-1zM503 236h4v1h-4zM543 236h1v1h-1zM55 237h1v1h-1zM97 237h3v1h-3zM120 237h1v1h-1zM186 237h1v1h-1zM206 237h1v1h-1zM246 237h1v1h-1zM267 237h2v1h-2zM300 237h1v1h-1zM330 237h2v1h-2zM354 237h1v1h-1zM393 237h1v1h-1zM412 237h1v1h-1zM479 237h1v1h-1zM500 237h3v1h-3zM543 237h1v1h-1zM55 238h1v1h-1zM100 238h4v1h-4zM120 238h1v1h-1zM185 238h1v1h-1zM207 238h2v1h-2zM247 238h1v1h-1zM265 238h2v1h-2zM300 238h1v1h-1zM332 238h2v1h-2zM353 238h1v1h-1zM391 238h2v1h-2zM413 238h1v1h-1zM479 238h1v1h-1zM496 238h4v1h-4zM543 238h1v1h-1zM55 239h1v1h-1zM104 239h4v1h-4zM119 239h1v1h-1zM185 239h1v1h-1zM209 239h2v1h-2zM248 239h1v1h-1zM264 239h1v1h-1zM300 239h1v1h-1zM334 239h1v1h-1zM352 239h1v1h-1zM389 239h2v1h-2zM413 239h1v1h-1zM480 239h1v1h-1zM492 239h4v1h-4zM543 239h1v1h-1zM54 240h1v1h-1zM108 240h4v1h-4zM119 240h1v1h-1zM185 240h1v1h-1zM211 240h2v1h-2zM249 240h1v1h-1zM263 240h1v1h-1zM300 240h1v1h-1zM335 240h1v1h-1zM351 240h1v1h-1zM387 240h2v1h-2zM413 240h1v1h-1zM480 240h1v1h-1zM488 240h4v1h-4zM544 240h1v1h-1zM54 241h1v1h-1zM112 241h3v1h-3zM119 241h1v1h-1zM184 241h1v1h-1zM213 241h1v1h-1zM250 241h1v1h-1zM261 241h2v1h-2zM300 241h1v1h-1zM336 241h2v1h-2zM350 241h1v1h-1zM386 241h1v1h-1zM414 241h1v1h-1zM480 241h1v1h-1zM485 241h3v1h-3zM544 241h1v1h-1zM54 242h1v1h-1zM115 242h5v1h-5zM184 242h1v1h-1zM214 242h2v1h-2zM251 242h1v1h-1zM260 242h1v1h-1zM300 242h1v1h-1zM338 242h1v1h-1zM349 242h1v1h-1zM384 242h2v1h-2zM414 242h1v1h-1zM480 242h5v1h-5zM544 242h1v1h-1zM54 243h1v1h-1zM118 243h5v1h-5zM183 243h1v1h-1zM216 243h2v1h-2zM252 243h1v1h-1zM259 243h1v1h-1zM300 243h1v1h-1zM339 243h1v1h-1zM348 243h1v1h-1zM382 243h2v1h-2zM415 243h1v1h-1zM477 243h5v1h-5zM544 243h1v1h-1zM54 244h1v1h-1zM118 244h1v1h-1zM123 244h3v1h-3zM183 244h1v1h-1zM218 244h1v1h-1zM253 244h1v1h-1zM258 244h1v1h-1zM300 244h1v1h-1zM340 244h1v1h-1zM347 244h1v1h-1zM381 244h1v1h-1zM415 244h1v1h-1zM474 244h3v1h-3zM481 244h1v1h-1zM544 244h1v1h-1zM53 245h1v1h-1zM118 245h1v1h-1zM126 245h4v1h-4zM182 245h1v1h-1zM219 245h2v1h-2zM254 245h1v1h-1zM257 245h1v1h-1zM300 245h1v1h-1zM341 245h1v1h-1zM346 245h1v1h-1zM379 245h2v1h-2zM416 245h1v1h-1zM470 245h4v1h-4zM481 245h1v1h-1zM545 245h1v1h-1zM53 246h1v1h-1zM118 246h1v1h-1zM130 246h4v1h-4zM182 246h1v1h-1zM221 246h2v1h-2zM255 246h2v1h-2zM300 246h1v1h-1zM342 246h1v1h-1zM345 246h1v1h-1zM377 246h2v1h-2zM416 246h1v1h-1zM466 246h4v1h-4zM481 246h1v1h-1zM545 246h1v1h-1zM53 247h1v1h-1zM117 247h1v1h-1zM134 247h4v1h-4zM182 247h1v1h-1zM223 247h2v1h-2zM255 247h2v1h-2zM300 247h1v1h-1zM343 247h2v1h-2zM375 247h2v1h-2zM416 247h1v1h-1zM462 247h4v1h-4zM482 247h1v1h-1zM545 247h1v1h-1zM53 248h1v1h-1zM117 248h1v1h-1zM138 248h3v1h-3zM181 248h1v1h-1zM225 248h1v1h-1zM254 248h1v1h-1zM300 248h1v1h-1zM343 248h2v1h-2zM374 248h1v1h-1zM417 248h1v1h-1zM459 248h3v1h-3zM482 248h1v1h-1zM545 248h1v1h-1zM53 249h1v1h-1zM117 249h1v1h-1zM141 249h4v1h-4zM181 249h1v1h-1zM226 249h2v1h-2zM253 249h1v1h-1zM300 249h1v1h-1zM345 249h1v1h-1zM372 249h2v1h-2zM417 249h1v1h-1zM455 249h4v1h-4zM482 249h1v1h-1zM545 249h1v1h-1zM53 250h1v1h-1zM117 250h1v1h-1zM145 250h4v1h-4zM181 250h1v1h-1zM228 250h2v1h-2zM252 250h1v1h-1zM300 250h1v1h-1zM346 250h1v1h-1zM370 250h2v1h-2zM417 250h1v1h-1zM451 250h4v1h-4zM482 250h1v1h-1zM545 250h1v1h-1zM52 251h1v1h-1zM116 251h1v1h-1zM149 251h4v1h-4zM180 251h1v1h-1zM230 251h2v1h-2zM251 251h1v1h-1zM300 251h1v1h-1zM347 251h1v1h-1zM368 251h2v1h-2zM418 251h1v1h-1zM447 251h4v1h-4zM483 251h1v1h-1zM546 251h1v1h-1zM52 252h1v1h-1zM116 252h1v1h-1zM153 252h3v1h-3zM180 252h1v1h-1zM232 252h1v1h-1zM250 252h1v1h-1zM300 252h1v1h-1zM348 252h1v1h-1zM367 252h1v1h-1zM418 252h1v1h-1zM444 252h3v1h-3zM483 252h1v1h-1zM546 252h1v1h-1zM52 253h1v1h-1zM116 253h1v1h-1zM156 253h4v1h-4zM180 253h1v1h-1zM233 253h2v1h-2zM250 253h1v1h-1zM300 253h1v1h-1zM348 253h1v1h-1zM365 253h2v1h-2zM418 253h1v1h-1zM440 253h4v1h-4zM483 253h1v1h-1zM546 253h1v1h-1zM52 254h1v1h-1zM116 254h1v1h-1zM160 254h4v1h-4zM179 254h1v1h-1zM235 254h2v1h-2zM249 254h1v1h-1zM300 254h1v1h-1zM349 254h1v1h-1zM363 254h2v1h-2zM419 254h1v1h-1zM436 254h4v1h-4zM483 254h1v1h-1zM546 254h1v1h-1zM52 255h1v1h-1zM116 255h1v1h-1zM164 255h4v1h-4zM179 255h1v1h-1zM237 255h2v1h-2zM248 255h1v1h-1zM300 255h1v1h-1zM350 255h1v1h-1zM361 255h2v1h-2zM419 255h1v1h-1zM432 255h4v1h-4zM483 255h1v1h-1zM546 255h1v1h-1zM52 256h1v1h-1zM115 256h1v1h-1zM168 256h3v1h-3zM179 256h1v1h-1zM239 256h1v1h-1zM248 256h1v1h-1zM300 256h1v1h-1zM350 256h1v1h-1zM360 256h1v1h-1zM419 256h1v1h-1zM429 256h3v1h-3zM484 256h1v1h-1zM546 256h1v1h-1zM52 257h1v1h-1zM115 257h1v1h-1zM171 257h4v1h-4zM178 257h1v1h-1zM240 257h2v1h-2zM247 257h1v1h-1zM300 257h1v1h-1zM351 257h1v1h-1zM358 257h2v1h-2zM420 257h1v1h-1zM425 257h4v1h-4zM484 257h1v1h-1zM546 257h1v1h-1zM51 258h1v1h-1zM115 258h1v1h-1zM175 258h4v1h-4zM242 258h2v1h-2zM246 258h1v1h-1zM300 258h1v1h-1zM352 258h1v1h-1zM356 258h2v1h-2zM420 258h5v1h-5zM484 258h1v1h-1zM547 258h1v1h-1zM51 259h1v1h-1zM115 259h1v1h-1zM178 259h4v1h-4zM244 259h1v1h-1zM246 259h1v1h-1zM300 259h1v1h-1zM352 259h1v1h-1zM355 259h1v1h-1zM418 259h3v1h-3zM484 259h1v1h-1zM547 259h1v1h-1zM51 260h1v1h-1zM115 260h1v1h-1zM178 260h1v1h-1zM182 260h4v1h-4zM245 260h2v1h-2zM300 260h1v1h-1zM353 260h2v1h-2zM414 260h4v1h-4zM420 260h1v1h-1zM484 260h1v1h-1zM547 260h1v1h-1zM51 261h1v1h-1zM115 261h1v1h-1zM177 261h1v1h-1zM186 261h4v1h-4zM245 261h1v1h-1zM300 261h1v1h-1zM353 261h1v1h-1zM410 261h4v1h-4zM421 261h1v1h-1zM484 261h1v1h-1zM547 261h1v1h-1zM51 262h1v1h-1zM114 262h1v1h-1zM177 262h1v1h-1zM190 262h4v1h-4zM244 262h1v1h-1zM300 262h1v1h-1zM354 262h1v1h-1zM406 262h4v1h-4zM421 262h1v1h-1zM485 262h1v1h-1zM547 262h1v1h-1zM51 263h1v1h-1zM114 263h1v1h-1zM177 263h1v1h-1zM194 263h3v1h-3zM244 263h1v1h-1zM300 263h1v1h-1zM354 263h1v1h-1zM403 263h3v1h-3zM421 263h1v1h-1zM485 263h1v1h-1zM547 263h1v1h-1zM51 264h1v1h-1zM114 264h1v1h-1zM177 264h1v1h-1zM197 264h4v1h-4zM243 264h1v1h-1zM300 264h1v1h-1zM355 264h1v1h-1zM399 264h4v1h-4zM421 264h1v1h-1zM485 264h1v1h-1zM547 264h1v1h-1zM51 265h1v1h-1zM114 265h1v1h-1zM177 265h1v1h-1zM201 265h4v1h-4zM243 265h1v1h-1zM300 265h1v1h-1zM355 265h1v1h-1zM395 265h4v1h-4zM421 265h1v1h-1zM485 265h1v1h-1zM547 265h1v1h-1zM50 266h1v1h-1zM114 266h1v1h-1zM176 266h1v1h-1zM205 266h4v1h-4zM242 266h1v1h-1zM300 266h1v1h-1zM356 266h1v1h-1zM391 266h4v1h-4zM422 266h1v1h-1zM485 266h1v1h-1zM548 266h1v1h-1zM50 267h1v1h-1zM114 267h1v1h-1zM176 267h1v1h-1zM209 267h3v1h-3zM242 267h1v1h-1zM300 267h1v1h-1zM356 267h1v1h-1zM388 267h3v1h-3zM422 267h1v1h-1zM485 267h1v1h-1zM548 267h1v1h-1zM50 268h1v1h-1zM114 268h1v1h-1zM176 268h1v1h-1zM212 268h4v1h-4zM241 268h1v1h-1zM300 268h1v1h-1zM357 268h1v1h-1zM384 268h4v1h-4zM422 268h1v1h-1zM485 268h1v1h-1zM548 268h1v1h-1zM50 269h1v1h-1zM113 269h1v1h-1zM176 269h1v1h-1zM216 269h4v1h-4zM241 269h1v1h-1zM300 269h1v1h-1zM357 269h1v1h-1zM380 269h4v1h-4zM422 269h1v1h-1zM486 269h1v1h-1zM548 269h1v1h-1zM50 270h1v1h-1zM113 270h1v1h-1zM176 270h1v1h-1zM220 270h3v1h-3zM241 270h1v1h-1zM300 270h1v1h-1zM357 270h1v1h-1zM377 270h3v1h-3zM422 270h1v1h-1zM486 270h1v1h-1zM548 270h1v1h-1zM50 271h1v1h-1zM113 271h1v1h-1zM176 271h1v1h-1zM223 271h4v1h-4zM240 271h1v1h-1zM300 271h1v1h-1zM358 271h1v1h-1zM373 271h4v1h-4zM422 271h1v1h-1zM486 271h1v1h-1zM548 271h1v1h-1zM50 272h1v1h-1zM113 272h1v1h-1zM175 272h1v1h-1zM227 272h4v1h-4zM240 272h1v1h-1zM300 272h1v1h-1zM358 272h1v1h-1zM369 272h4v1h-4zM423 272h1v1h-1zM486 272h1v1h-1zM548 272h1v1h-1zM50 273h1v1h-1zM113 273h1v1h-1zM175 273h1v1h-1zM231 273h4v1h-4zM240 273h1v1h-1zM300 273h1v1h-1zM358 273h1v1h-1zM365 273h4v1h-4zM423 273h1v1h-1zM486 273h1v1h-1zM548 273h1v1h-1zM50 274h1v1h-1zM113 274h1v1h-1zM175 274h1v1h-1zM235 274h3v1h-3zM239 274h1v1h-1zM300 274h1v1h-1zM359 274h1v1h-1zM362 274h3v1h-3zM423 274h1v1h-1zM486 274h1v1h-1zM548 274h1v1h-1zM50 275h1v1h-1zM113 275h1v1h-1zM175 275h1v1h-1zM238 275h3v1h-3zM300 275h1v1h-1zM359 275h3v1h-3zM423 275h1v1h-1zM486 275h1v1h-1zM548 275h1v1h-1zM50 276h1v1h-1zM113 276h1v1h-1zM175 276h1v1h-1zM239 276h1v1h-1zM300 276h1v1h-1zM359 276h1v1h-1zM423 276h1v1h-1zM486 276h1v1h-1zM548 276h1v1h-1zM50 277h1v1h-1zM113 277h1v1h-1zM175 277h1v1h-1zM239 277h1v1h-1zM300 277h1v1h-1zM359 277h1v1h-1zM423 277h1v1h-1zM486 277h1v1h-1zM548 277h1v1h-1zM50 278h1v1h-1zM113 278h1v1h-1zM175 278h1v1h-1zM238 278h1v1h-1zM300 278h1v1h-1zM360 278h1v1h-1zM423 278h1v1h-1zM486 278h1v1h-1zM548 278h1v1h-1zM50 279h1v1h-1zM113 279h1v1h-1zM175 279h1v1h-1zM238 279h1v1h-1zM300 279h1v1h-1zM360 279h1v1h-1zM423 279h1v1h-1zM486 279h1v1h-1zM548 279h1v1h-1zM50 280h1v1h-1zM113 280h1v1h-1zM174 280h1v1h-1zM238 280h1v1h-1zM300 280h1v1h-1zM360 280h1v1h-1zM424 280h1v1h-1zM486 280h1v1h-1zM548 280h1v1h-1zM49 281h1v1h-1zM112 281h1v1h-1zM174 281h1v1h-1zM238 281h1v1h-1zM300 281h1v1h-1zM360 281h1v1h-1zM424 281h1v1h-1zM487 281h1v1h-1zM549 281h1v1h-1zM49 282h1v1h-1zM112 282h1v1h-1zM174 282h1v1h-1zM238 282h1v1h-1zM300 282h1v1h-1zM360 282h1v1h-1zM424 282h1v1h-1zM487 282h1v1h-1zM549 282h1v1h-1zM49 283h1v1h-1zM112 283h1v1h-1zM174 283h1v1h-1zM238 283h1v1h-1zM300 283h1v1h-1zM360 283h1v1h-1zM424 283h1v1h-1zM487 283h1v1h-1zM549 283h1v1h-1zM49 284h1v1h-1zM112 284h1v1h-1zM174 284h1v1h-1zM238 284h1v1h-1zM300 284h1v1h-1zM360 284h1v1h-1zM424 284h1v1h-1zM487 284h1v1h-1zM549 284h1v1h-1zM49 285h1v1h-1zM112 285h1v1h-1zM174 285h1v1h-1zM238 285h1v1h-1zM300 285h1v1h-1zM360 285h1v1h-1zM424 285h1v1h-1zM487 285h1v1h-1zM549 285h1v1h-1zM49 286h1v1h-1zM112 286h1v1h-1zM174 286h1v1h-1zM237 286h1v1h-1zM300 286h1v1h-1zM361 286h1v1h-1zM424 286h1v1h-1zM487 286h1v1h-1zM549 286h1v1h-1zM49 287h1v1h-1zM112 287h1v1h-1zM174 287h1v1h-1zM237 287h1v1h-1zM300 287h1v1h-1zM361 287h1v1h-1zM424 287h1v1h-1zM487 287h1v1h-1zM549 287h1v1h-1zM49 288h1v1h-1zM112 288h1v1h-1zM174 288h1v1h-1zM237 288h1v1h-1zM300 288h1v1h-1zM361 288h1v1h-1zM424 288h1v1h-1zM487 288h1v1h-1zM549 288h1v1h-1zM49 289h1v1h-1zM112 289h1v1h-1zM174 289h1v1h-1zM237 289h1v1h-1zM300 289h1v1h-1zM361 289h1v1h-1zM424 289h1v1h-1zM487 289h1v1h-1zM549 289h1v1h-1zM49 290h1v1h-1zM112 290h1v1h-1zM174 290h1v1h-1zM237 290h1v1h-1zM300 290h1v1h-1zM361 290h1v1h-1zM424 290h1v1h-1zM487 290h1v1h-1zM549 290h1v1h-1zM49 291h501v1h-501zM49 292h1v1h-1zM112 292h1v1h-1zM174 292h1v1h-1zM237 292h1v1h-1zM300 292h1v1h-1zM361 292h1v1h-1zM424 292h1v1h-1zM487 292h1v1h-1zM549 292h1v1h-1zM49 293h1v1h-1zM112 293h1v1h-1zM174 293h1v1h-1zM237 293h1v1h-1zM300 293h1v1h-1zM361 293h1v1h-1zM424 293h1v1h-1zM487 293h1v1h-1zM549 293h1v1h-1zM49 294h1v1h-1zM112 294h1v1h-1zM174 294h1v1h-1zM237 294h1v1h-1zM300 294h1v1h-1zM361 294h1v1h-1zM424 294h1v1h-1zM487 294h1v1h-1zM549 294h1v1h-1zM49 295h1v1h-1zM112 295h1v1h-1zM174 295h1v1h-1zM238 295h1v1h-1zM300 295h1v1h-1zM360 295h1v1h-1zM424 295h1v1h-1zM487 295h1v1h-1zM549 295h1v1h-1zM49 296h1v1h-1zM112 296h1v1h-1zM174 296h1v1h-1zM238 296h1v1h-1zM300 296h1v1h-1zM360 296h1v1h-1zM424 296h1v1h-1zM487 296h1v1h-1zM549 296h1v1h-1zM49 297h1v1h-1zM112 297h1v1h-1zM174 297h1v1h-1zM238 297h1v1h-1zM300 297h1v1h-1zM360 297h1v1h-1zM424 297h1v1h-1zM487 297h1v1h-1zM549 297h1v1h-1zM49 298h1v1h-1zM112 298h1v1h-1zM174 298h1v1h-1zM238 298h1v1h-1zM300 298h1v1h-1zM360 298h1v1h-1zM424 298h1v1h-1zM487 298h1v1h-1zM549 298h1v1h-1zM49 299h1v1h-1zM112 299h1v1h-1zM174 299h1v1h-1zM238 299h1v1h-1zM300 299h1v1h-1zM360 299h1v1h-1zM424 299h1v1h-1zM487 299h1v1h-1zM549 299h1v1h-1zM50 300h1v1h-1zM112 300h1v1h-1zM174 300h1v1h-1zM238 300h1v1h-1zM300 300h1v1h-1zM360 300h1v1h-1zM424 300h1v1h-1zM487 300h1v1h-1zM548 300h1v1h-1zM50 301h1v1h-1zM113 301h1v1h-1zM175 301h1v1h-1zM238 301h1v1h-1zM300 301h1v1h-1zM360 301h1v1h-1zM423 301h1v1h-1zM486 301h1v1h-1zM548 301h1v1h-1zM50 302h1v1h-1zM113 302h1v1h-1zM175 302h1v1h-1zM239 302h1v1h-1zM300 302h1v1h-1zM359 302h1v1h-1zM423 302h1v1h-1zM486 302h1v1h-1zM548 302h1v1h-1zM50 303h1v1h-1zM113 303h1v1h-1zM175 303h1v1h-1zM239 303h1v1h-1zM300 303h1v1h-1zM359 303h1v1h-1zM423 303h1v1h-1zM486 303h1v1h-1zM548 303h1v1h-1zM50 304h1v1h-1zM113 304h1v1h-1zM175 304h1v1h-1zM239 304h1v1h-1zM300 304h1v1h-1zM359 304h1v1h-1zM423 304h1v1h-1zM486 304h1v1h-1zM548 304h1v1h-1zM50 305h1v1h-1zM113 305h1v1h-1zM175 305h1v1h-1zM239 305h1v1h-1zM300 305h1v1h-1zM359 305h1v1h-1zM423 305h1v1h-1zM486 305h1v1h-1zM548 305h1v1h-1zM50 306h1v1h-1zM113 306h1v1h-1zM175 306h1v1h-1zM239 306h1v1h-1zM300 306h1v1h-1zM359 306h1v1h-1zM423 306h1v1h-1zM486 306h1v1h-1zM548 306h1v1h-1zM50 307h1v1h-1zM113 307h1v1h-1zM175 307h1v1h-1zM238 307h3v1h-3zM300 307h1v1h-1zM358 307h4v1h-4zM423 307h1v1h-1zM486 307h1v1h-1zM548 307h1v1h-1zM50 308h1v1h-1zM113 308h1v1h-1zM175 308h1v1h-1zM235 308h3v1h-3zM240 308h1v1h-1zM300 308h1v1h-1zM358 308h1v1h-1zM362 308h3v1h-3zM423 308h1v1h-1zM486 308h1v1h-1zM548 308h1v1h-1zM50 309h1v1h-1zM113 309h1v1h-1zM176 309h1v1h-1zM231 309h4v1h-4zM240 309h1v1h-1zM300 309h1v1h-1zM358 309h1v1h-1zM365 309h4v1h-4zM422 309h1v1h-1zM486 309h1v1h-1zM548 309h1v1h-1zM50 310h1v1h-1zM113 310h1v1h-1zM176 310h1v1h-1zM227 310h4v1h-4zM241 310h1v1h-1zM300 310h1v1h-1zM357 310h1v1h-1zM369 310h4v1h-4zM422 310h1v1h-1zM486 310h1v1h-1zM548 310h1v1h-1zM50 311h1v1h-1zM113 311h1v1h-1zM176 311h1v1h-1zM223 311h4v1h-4zM241 311h1v1h-1zM300 311h1v1h-1zM357 311h1v1h-1zM373 311h4v1h-4zM422 311h1v1h-1zM486 311h1v1h-1zM548 311h1v1h-1zM50 312h1v1h-1zM113 312h1v1h-1zM176 312h1v1h-1zM220 312h3v1h-3zM241 312h1v1h-1zM300 312h1v1h-1zM357 312h1v1h-1zM377 312h3v1h-3zM422 312h1v1h-1zM486 312h1v1h-1zM548 312h1v1h-1zM50 313h1v1h-1zM114 313h1v1h-1zM176 313h1v1h-1zM216 313h4v1h-4zM242 313h1v1h-1zM300 313h1v1h-1zM356 313h1v1h-1zM380 313h4v1h-4zM422 313h1v1h-1zM485 313h1v1h-1zM548 313h1v1h-1zM50 314h1v1h-1zM114 314h1v1h-1zM176 314h1v1h-1zM212 314h4v1h-4zM242 314h1v1h-1zM300 314h1v1h-1zM356 314h1v1h-1zM384 314h4v1h-4zM422 314h1v1h-1zM485 314h1v1h-1zM548 314h1v1h-1zM51 315h1v1h-1zM114 315h1v1h-1zM177 315h1v1h-1zM209 315h3v1h-3zM243 315h1v1h-1zM300 315h1v1h-1zM355 315h1v1h-1zM388 315h3v1h-3zM421 315h1v1h-1zM485 315h1v1h-1zM547 315h1v1h-1zM51 316h1v1h-1zM114 316h1v1h-1zM177 316h1v1h-1zM205 316h4v1h-4zM243 316h1v1h-1zM300 316h1v1h-1zM355 316h1v1h-1zM391 316h4v1h-4zM421 316h1v1h-1zM485 316h1v1h-1zM547 316h1v1h-1zM51 317h1v1h-1zM114 317h1v1h-1zM177 317h1v1h-1zM201 317h4v1h-4zM244 317h1v1h-1zM300 317h1v1h-1zM354 317h1v1h-1zM395 317h4v1h-4zM421 317h1v1h-1zM485 317h1v1h-1zM547 317h1v1h-1zM51 318h1v1h-1zM114 318h1v1h-1zM177 318h1v1h-1zM197 318h4v1h-4zM244 318h1v1h-1zM300 318h1v1h-1zM354 318h1v1h-1zM399 318h4v1h-4zM421 318h1v1h-1zM485 318h1v1h-1zM547 318h1v1h-1zM51 319h1v1h-1zM114 319h1v1h-1zM177 319h1v1h-1zM194 319h3v1h-3zM245 319h1v1h-1zM300 319h1v1h-1zM353 319h1v1h-1zM403 319h3v1h-3zM421 319h1v1h-1zM485 319h1v1h-1zM547 319h1v1h-1zM51 320h1v1h-1zM115 320h1v1h-1zM178 320h1v1h-1zM190 320h4v1h-4zM245 320h1v1h-1zM300 320h1v1h-1zM353 320h1v1h-1zM406 320h4v1h-4zM420 320h1v1h-1zM484 320h1v1h-1zM547 320h1v1h-1zM51 321h1v1h-1zM115 321h1v1h-1zM178 321h1v1h-1zM186 321h4v1h-4zM246 321h1v1h-1zM300 321h1v1h-1zM352 321h1v1h-1zM410 321h4v1h-4zM420 321h1v1h-1zM484 321h1v1h-1zM547 321h1v1h-1zM51 322h1v1h-1zM115 322h1v1h-1zM178 322h1v1h-1zM182 322h4v1h-4zM245 322h2v1h-2zM300 322h1v1h-1zM352 322h3v1h-3zM414 322h4v1h-4zM420 322h1v1h-1zM484 322h1v1h-1zM547 322h1v1h-1zM52 323h1v1h-1zM115 323h1v1h-1zM178 323h4v1h-4zM244 323h1v1h-1zM247 323h1v1h-1zM300 323h1v1h-1zM351 323h1v1h-1zM355 323h1v1h-1zM418 323h3v1h-3zM484 323h1v1h-1zM546 323h1v1h-1zM52 324h1v1h-1zM115 324h1v1h-1zM175 324h5v1h-5zM242 324h2v1h-2zM248 324h1v1h-1zM300 324h1v1h-1zM350 324h1v1h-1zM356 324h2v1h-2zM419 324h1v1h-1zM421 324h4v1h-4zM484 324h1v1h-1zM546 324h1v1h-1zM52 325h1v1h-1zM115 325h1v1h-1zM171 325h4v1h-4zM179 325h1v1h-1zM240 325h2v1h-2zM248 325h1v1h-1zM300 325h1v1h-1zM350 325h1v1h-1zM358 325h2v1h-2zM419 325h1v1h-1zM425 325h4v1h-4zM484 325h1v1h-1zM546 325h1v1h-1zM52 326h1v1h-1zM116 326h1v1h-1zM168 326h3v1h-3zM179 326h1v1h-1zM239 326h1v1h-1zM249 326h1v1h-1zM300 326h1v1h-1zM349 326h1v1h-1zM360 326h1v1h-1zM419 326h1v1h-1zM429 326h3v1h-3zM483 326h1v1h-1zM546 326h1v1h-1zM52 327h1v1h-1zM116 327h1v1h-1zM164 327h4v1h-4zM180 327h1v1h-1zM237 327h2v1h-2zM250 327h1v1h-1zM300 327h1v1h-1zM348 327h1v1h-1zM361 327h2v1h-2zM418 327h1v1h-1zM432 327h4v1h-4zM483 327h1v1h-1zM546 327h1v1h-1zM52 328h1v1h-1zM116 328h1v1h-1zM160 328h4v1h-4zM180 328h1v1h-1zM235 328h2v1h-2zM250 328h1v1h-1zM300 328h1v1h-1zM348 328h1v1h-1zM363 328h2v1h-2zM418 328h1v1h-1zM436 328h4v1h-4zM483 328h1v1h-1zM546 328h1v1h-1zM52 329h1v1h-1zM116 329h1v1h-1zM156 329h4v1h-4zM180 329h1v1h-1zM233 329h2v1h-2zM251 329h1v1h-1zM300 329h1v1h-1zM347 329h1v1h-1zM365 329h2v1h-2zM418 329h1v1h-1zM440 329h4v1h-4zM483 329h1v1h-1zM546 329h1v1h-1zM53 330h1v1h-1zM116 330h1v1h-1zM153 330h3v1h-3zM181 330h1v1h-1zM232 330h1v1h-1zM252 330h1v1h-1zM300 330h1v1h-1zM346 330h1v1h-1zM367 330h1v1h-1zM417 330h1v1h-1zM444 330h3v1h-3zM483 330h1v1h-1zM545 330h1v1h-1zM53 331h1v1h-1zM117 331h1v1h-1zM149 331h4v1h-4zM181 331h1v1h-1zM230 331h2v1h-2zM253 331h1v1h-1zM300 331h1v1h-1zM345 331h1v1h-1zM368 331h2v1h-2zM417 331h1v1h-1zM447 331h4v1h-4zM482 331h1v1h-1zM545 331h1v1h-1zM53 332h1v1h-1zM117 332h1v1h-1zM145 332h4v1h-4zM181 332h1v1h-1zM228 332h2v1h-2zM254 332h1v1h-1zM300 332h1v1h-1zM344 332h1v1h-1zM370 332h2v1h-2zM417 332h1v1h-1zM451 332h4v1h-4zM482 332h1v1h-1zM545 332h1v1h-1zM53 333h1v1h-1zM117 333h1v1h-1zM141 333h4v1h-4zM182 333h1v1h-1zM226 333h2v1h-2zM255 333h1v1h-1zM300 333h1v1h-1zM343 333h1v1h-1zM372 333h2v1h-2zM416 333h1v1h-1zM455 333h4v1h-4zM482 333h1v1h-1zM545 333h1v1h-1zM53 334h1v1h-1zM117 334h1v1h-1zM138 334h3v1h-3zM182 334h1v1h-1zM225 334h1v1h-1zM256 334h1v1h-1zM300 334h1v1h-1zM342 334h1v1h-1zM374 334h1v1h-1zM416 334h1v1h-1zM459 334h3v1h-3zM482 334h1v1h-1zM545 334h1v1h-1zM53 335h1v1h-1zM118 335h1v1h-1zM134 335h4v1h-4zM182 335h1v1h-1zM223 335h2v1h-2zM256 335h2v1h-2zM300 335h1v1h-1zM341 335h1v1h-1zM343 335h1v1h-1zM375 335h2v1h-2zM416 335h1v1h-1zM462 335h4v1h-4zM481 335h1v1h-1zM545 335h1v1h-1zM54 336h1v1h-1zM118 336h1v1h-1zM130 336h4v1h-4zM183 336h1v1h-1zM221 336h2v1h-2zM255 336h1v1h-1zM258 336h1v1h-1zM300 336h1v1h-1zM340 336h1v1h-1zM344 336h1v1h-1zM377 336h2v1h-2zM415 336h1v1h-1zM466 336h4v1h-4zM481 336h1v1h-1zM544 336h1v1h-1zM54 337h1v1h-1zM118 337h1v1h-1zM126 337h4v1h-4zM183 337h1v1h-1zM219 337h2v1h-2zM254 337h1v1h-1zM259 337h1v1h-1zM300 337h1v1h-1zM339 337h1v1h-1zM345 337h1v1h-1zM379 337h2v1h-2zM415 337h1v1h-1zM470 337h4v1h-4zM481 337h1v1h-1zM544 337h1v1h-1zM54 338h1v1h-1zM118 338h1v1h-1zM123 338h3v1h-3zM184 338h1v1h-1zM218 338h1v1h-1zM253 338h1v1h-1zM260 338h1v1h-1zM300 338h1v1h-1zM338 338h1v1h-1zM346 338h1v1h-1zM381 338h1v1h-1zM414 338h1v1h-1zM474 338h3v1h-3zM481 338h1v1h-1zM544 338h1v1h-1zM54 339h1v1h-1zM119 339h4v1h-4zM184 339h1v1h-1zM216 339h2v1h-2zM252 339h1v1h-1zM261 339h2v1h-2zM300 339h1v1h-1zM336 339h2v1h-2zM347 339h1v1h-1zM382 339h2v1h-2zM414 339h1v1h-1zM477 339h4v1h-4zM544 339h1v1h-1zM54 340h1v1h-1zM115 340h5v1h-5zM185 340h1v1h-1zM214 340h2v1h-2zM251 340h1v1h-1zM263 340h1v1h-1zM300 340h1v1h-1zM335 340h1v1h-1zM348 340h1v1h-1zM384 340h2v1h-2zM413 340h1v1h-1zM480 340h5v1h-5zM544 340h1v1h-1zM55 341h1v1h-1zM112 341h3v1h-3zM119 341h1v1h-1zM185 341h1v1h-1zM213 341h1v1h-1zM250 341h1v1h-1zM264 341h2v1h-2zM300 341h1v1h-1zM333 341h2v1h-2zM349 341h1v1h-1zM386 341h1v1h-1zM413 341h1v1h-1zM480 341h1v1h-1zM485 341h3v1h-3zM543 341h1v1h-1zM55 342h1v1h-1zM108 342h4v1h-4zM119 342h1v1h-1zM185 342h1v1h-1zM211 342h2v1h-2zM249 342h1v1h-1zM266 342h1v1h-1zM300 342h1v1h-1zM332 342h1v1h-1zM350 342h1v1h-1zM387 342h2v1h-2zM413 342h1v1h-1zM480 342h1v1h-1zM488 342h4v1h-4zM543 342h1v1h-1zM55 343h1v1h-1zM104 343h4v1h-4zM120 343h1v1h-1zM186 343h1v1h-1zM209 343h2v1h-2zM248 343h1v1h-1zM267 343h2v1h-2zM300 343h1v1h-1zM330 343h2v1h-2zM351 343h1v1h-1zM389 343h2v1h-2zM412 343h1v1h-1zM479 343h1v1h-1zM492 343h4v1h-4zM543 343h1v1h-1zM55 344h1v1h-1zM100 344h4v1h-4zM120 344h1v1h-1zM186 344h1v1h-1zM207 344h2v1h-2zM247 344h1v1h-1zM269 344h2v1h-2zM300 344h1v1h-1zM328 344h2v1h-2zM352 344h1v1h-1zM391 344h2v1h-2zM412 344h1v1h-1zM479 344h1v1h-1zM496 344h4v1h-4zM543 344h1v1h-1zM55 345h1v1h-1zM97 345h3v1h-3zM120 345h1v1h-1zM187 345h1v1h-1zM206 345h1v1h-1zM246 345h1v1h-1zM268 345h1v1h-1zM271 345h2v1h-2zM300 345h1v1h-1zM326 345h2v1h-2zM331 345h1v1h-1zM353 345h1v1h-1zM393 345h1v1h-1zM411 345h1v1h-1zM479 345h1v1h-1zM500 345h3v1h-3zM543 345h1v1h-1zM56 346h1v1h-1zM93 346h4v1h-4zM121 346h1v1h-1zM187 346h1v1h-1zM204 346h2v1h-2zM245 346h1v1h-1zM268 346h1v1h-1zM273 346h2v1h-2zM300 346h1v1h-1zM324 346h2v1h-2zM331 346h1v1h-1zM354 346h1v1h-1zM394 346h2v1h-2zM411 346h1v1h-1zM478 346h1v1h-1zM503 346h4v1h-4zM542 346h1v1h-1zM56 347h1v1h-1zM89 347h4v1h-4zM121 347h1v1h-1zM188 347h1v1h-1zM202 347h2v1h-2zM244 347h1v1h-1zM267 347h1v1h-1zM275 347h2v1h-2zM300 347h1v1h-1zM322 347h2v1h-2zM332 347h1v1h-1zM355 347h1v1h-1zM396 347h2v1h-2zM410 347h1v1h-1zM478 347h1v1h-1zM507 347h4v1h-4zM542 347h1v1h-1zM56 348h1v1h-1zM85 348h4v1h-4zM121 348h1v1h-1zM188 348h1v1h-1zM200 348h2v1h-2zM243 348h1v1h-1zM267 348h1v1h-1zM277 348h3v1h-3zM300 348h1v1h-1zM319 348h3v1h-3zM332 348h1v1h-1zM356 348h1v1h-1zM398 348h2v1h-2zM410 348h1v1h-1zM478 348h1v1h-1zM511 348h4v1h-4zM542 348h1v1h-1zM56 349h1v1h-1zM82 349h3v1h-3zM122 349h1v1h-1zM189 349h1v1h-1zM199 349h1v1h-1zM242 349h1v1h-1zM266 349h1v1h-1zM280 349h3v1h-3zM300 349h1v1h-1zM316 349h3v1h-3zM333 349h1v1h-1zM357 349h1v1h-1zM400 349h1v1h-1zM409 349h1v1h-1zM477 349h1v1h-1zM515 349h3v1h-3zM542 349h1v1h-1zM57 350h1v1h-1zM78 350h4v1h-4zM122 350h1v1h-1zM189 350h1v1h-1zM197 350h2v1h-2zM241 350h1v1h-1zM265 350h1v1h-1zM283 350h5v1h-5zM300 350h1v1h-1zM311 350h5v1h-5zM334 350h1v1h-1zM358 350h1v1h-1zM401 350h2v1h-2zM409 350h1v1h-1zM477 350h1v1h-1zM518 350h4v1h-4zM541 350h1v1h-1zM57 351h1v1h-1zM74 351h4v1h-4zM122 351h1v1h-1zM190 351h1v1h-1zM195 351h2v1h-2zM240 351h1v1h-1zM265 351h1v1h-1zM283 351h1v1h-1zM288 351h7v1h-7zM300 351h1v1h-1zM304 351h7v1h-7zM316 351h1v1h-1zM334 351h1v1h-1zM359 351h1v1h-1zM403 351h2v1h-2zM408 351h1v1h-1zM477 351h1v1h-1zM522 351h4v1h-4zM541 351h1v1h-1zM57 352h1v1h-1zM70 352h4v1h-4zM123 352h1v1h-1zM191 352h1v1h-1zM193 352h2v1h-2zM239 352h1v1h-1zM264 352h1v1h-1zM283 352h1v1h-1zM295 352h9v1h-9zM316 352h1v1h-1zM335 352h1v1h-1zM360 352h1v1h-1zM405 352h3v1h-3zM476 352h1v1h-1zM526 352h4v1h-4zM541 352h1v1h-1zM57 353h1v1h-1zM67 353h3v1h-3zM123 353h1v1h-1zM191 353h2v1h-2zM238 353h1v1h-1zM264 353h1v1h-1zM283 353h1v1h-1zM300 353h1v1h-1zM316 353h1v1h-1zM335 353h1v1h-1zM361 353h1v1h-1zM407 353h1v1h-1zM476 353h1v1h-1zM530 353h3v1h-3zM541 353h1v1h-1zM58 354h1v1h-1zM63 354h4v1h-4zM123 354h1v1h-1zM190 354h3v1h-3zM237 354h1v1h-1zM263 354h1v1h-1zM283 354h1v1h-1zM300 354h1v1h-1zM316 354h1v1h-1zM336 354h1v1h-1zM362 354h1v1h-1zM406 354h1v1h-1zM408 354h2v1h-2zM476 354h1v1h-1zM533 354h4v1h-4zM540 354h1v1h-1zM58 355h5v1h-5zM124 355h1v1h-1zM188 355h2v1h-2zM192 355h1v1h-1zM236 355h1v1h-1zM263 355h1v1h-1zM282 355h1v1h-1zM300 355h1v1h-1zM317 355h1v1h-1zM336 355h1v1h-1zM363 355h1v1h-1zM406 355h1v1h-1zM410 355h2v1h-2zM475 355h1v1h-1zM537 355h4v1h-4zM58 356h1v1h-1zM124 356h1v1h-1zM187 356h1v1h-1zM193 356h1v1h-1zM235 356h1v1h-1zM262 356h1v1h-1zM282 356h1v1h-1zM300 356h1v1h-1zM317 356h1v1h-1zM337 356h1v1h-1zM364 356h1v1h-1zM405 356h1v1h-1zM412 356h1v1h-1zM475 356h1v1h-1zM540 356h2v1h-2zM58 357h1v1h-1zM124 357h1v1h-1zM185 357h2v1h-2zM194 357h1v1h-1zM234 357h1v1h-1zM261 357h1v1h-1zM282 357h1v1h-1zM300 357h1v1h-1zM317 357h1v1h-1zM338 357h1v1h-1zM365 357h1v1h-1zM404 357h1v1h-1zM413 357h2v1h-2zM475 357h1v1h-1zM540 357h1v1h-1zM59 358h1v1h-1zM125 358h1v1h-1zM183 358h2v1h-2zM194 358h1v1h-1zM233 358h1v1h-1zM261 358h1v1h-1zM282 358h1v1h-1zM300 358h1v1h-1zM317 358h1v1h-1zM338 358h1v1h-1zM366 358h1v1h-1zM404 358h1v1h-1zM415 358h2v1h-2zM474 358h1v1h-1zM539 358h1v1h-1zM59 359h1v1h-1zM125 359h1v1h-1zM181 359h2v1h-2zM195 359h1v1h-1zM232 359h1v1h-1zM260 359h1v1h-1zM281 359h1v1h-1zM300 359h1v1h-1zM318 359h1v1h-1zM339 359h1v1h-1zM367 359h1v1h-1zM403 359h1v1h-1zM417 359h2v1h-2zM474 359h1v1h-1zM539 359h1v1h-1zM59 360h1v1h-1zM126 360h1v1h-1zM180 360h1v1h-1zM196 360h1v1h-1zM231 360h1v1h-1zM260 360h1v1h-1zM281 360h1v1h-1zM300 360h1v1h-1zM318 360h1v1h-1zM339 360h1v1h-1zM368 360h1v1h-1zM402 360h1v1h-1zM419 360h1v1h-1zM473 360h1v1h-1zM539 360h1v1h-1zM60 361h1v1h-1zM126 361h1v1h-1zM178 361h2v1h-2zM196 361h1v1h-1zM230 361h1v1h-1zM259 361h1v1h-1zM281 361h1v1h-1zM300 361h1v1h-1zM318 361h1v1h-1zM340 361h1v1h-1zM369 361h1v1h-1zM402 361h1v1h-1zM420 361h2v1h-2zM473 361h1v1h-1zM538 361h1v1h-1zM60 362h1v1h-1zM126 362h1v1h-1zM176 362h2v1h-2zM197 362h1v1h-1zM229 362h1v1h-1zM259 362h1v1h-1zM280 362h1v1h-1zM300 362h1v1h-1zM319 362h1v1h-1zM340 362h1v1h-1zM370 362h1v1h-1zM401 362h1v1h-1zM422 362h2v1h-2zM473 362h1v1h-1zM538 362h1v1h-1zM60 363h1v1h-1zM127 363h1v1h-1zM174 363h2v1h-2zM198 363h1v1h-1zM228 363h1v1h-1zM258 363h1v1h-1zM280 363h1v1h-1zM300 363h1v1h-1zM319 363h1v1h-1zM341 363h1v1h-1zM371 363h1v1h-1zM400 363h1v1h-1zM424 363h2v1h-2zM472 363h1v1h-1zM538 363h1v1h-1zM61 364h1v1h-1zM127 364h1v1h-1zM173 364h1v1h-1zM198 364h1v1h-1zM227 364h1v1h-1zM257 364h1v1h-1zM280 364h1v1h-1zM300 364h1v1h-1zM319 364h1v1h-1zM342 364h1v1h-1zM372 364h1v1h-1zM400 364h1v1h-1zM426 364h1v1h-1zM472 364h1v1h-1zM537 364h1v1h-1zM61 365h1v1h-1zM128 365h1v1h-1zM171 365h2v1h-2zM199 365h1v1h-1zM226 365h1v1h-1zM257 365h1v1h-1zM280 365h1v1h-1zM300 365h1v1h-1zM319 365h1v1h-1zM342 365h1v1h-1zM373 365h1v1h-1zM399 365h1v1h-1zM427 365h2v1h-2zM471 365h1v1h-1zM537 365h1v1h-1zM61 366h1v1h-1zM128 366h1v1h-1zM169 366h2v1h-2zM200 366h1v1h-1zM225 366h1v1h-1zM256 366h1v1h-1zM279 366h1v1h-1zM300 366h1v1h-1zM320 366h1v1h-1zM343 366h1v1h-1zM374 366h1v1h-1zM398 366h1v1h-1zM429 366h2v1h-2zM471 366h1v1h-1zM537 366h1v1h-1zM61 367h1v1h-1zM129 367h1v1h-1zM167 367h2v1h-2zM201 367h1v1h-1zM224 367h1v1h-1zM256 367h1v1h-1zM279 367h1v1h-1zM300 367h1v1h-1zM320 367h1v1h-1zM343 367h1v1h-1zM375 367h1v1h-1zM397 367h1v1h-1zM431 367h2v1h-2zM470 367h1v1h-1zM537 367h1v1h-1zM62 368h1v1h-1zM129 368h1v1h-1zM166 368h1v1h-1zM201 368h1v1h-1zM223 368h1v1h-1zM255 368h1v1h-1zM279 368h1v1h-1zM300 368h1v1h-1zM320 368h1v1h-1zM344 368h1v1h-1zM376 368h1v1h-1zM397 368h1v1h-1zM433 368h1v1h-1zM470 368h1v1h-1zM536 368h1v1h-1zM62 369h1v1h-1zM129 369h1v1h-1zM164 369h2v1h-2zM202 369h1v1h-1zM222 369h1v1h-1zM254 369h1v1h-1zM279 369h1v1h-1zM300 369h1v1h-1zM320 369h1v1h-1zM345 369h1v1h-1zM377 369h1v1h-1zM396 369h1v1h-1zM434 369h2v1h-2zM470 369h1v1h-1zM536 369h1v1h-1zM62 370h1v1h-1zM130 370h1v1h-1zM162 370h2v1h-2zM203 370h1v1h-1zM221 370h1v1h-1zM254 370h1v1h-1zM278 370h1v1h-1zM300 370h1v1h-1zM321 370h1v1h-1zM345 370h1v1h-1zM378 370h1v1h-1zM395 370h1v1h-1zM436 370h2v1h-2zM469 370h1v1h-1zM536 370h1v1h-1zM63 371h1v1h-1zM130 371h1v1h-1zM161 371h1v1h-1zM204 371h1v1h-1zM220 371h1v1h-1zM253 371h1v1h-1zM278 371h1v1h-1zM300 371h1v1h-1zM321 371h1v1h-1zM346 371h1v1h-1zM379 371h1v1h-1zM394 371h1v1h-1zM438 371h1v1h-1zM469 371h1v1h-1zM535 371h1v1h-1zM63 372h1v1h-1zM131 372h1v1h-1zM159 372h2v1h-2zM205 372h1v1h-1zM219 372h1v1h-1zM253 372h1v1h-1zM278 372h1v1h-1zM300 372h1v1h-1zM321 372h1v1h-1zM346 372h1v1h-1zM380 372h1v1h-1zM393 372h1v1h-1zM439 372h2v1h-2zM468 372h1v1h-1zM535 372h1v1h-1zM64 373h1v1h-1zM131 373h1v1h-1zM157 373h2v1h-2zM206 373h1v1h-1zM218 373h1v1h-1zM252 373h1v1h-1zM278 373h1v1h-1zM300 373h1v1h-1zM321 373h1v1h-1zM347 373h1v1h-1zM381 373h1v1h-1zM392 373h1v1h-1zM441 373h2v1h-2zM468 373h1v1h-1zM534 373h1v1h-1zM64 374h1v1h-1zM132 374h1v1h-1zM155 374h2v1h-2zM207 374h1v1h-1zM217 374h1v1h-1zM252 374h1v1h-1zM277 374h1v1h-1zM300 374h1v1h-1zM322 374h1v1h-1zM347 374h1v1h-1zM382 374h1v1h-1zM391 374h1v1h-1zM443 374h2v1h-2zM467 374h1v1h-1zM534 374h1v1h-1zM64 375h1v1h-1zM132 375h1v1h-1zM154 375h1v1h-1zM207 375h1v1h-1zM216 375h1v1h-1zM251 375h1v1h-1zM277 375h1v1h-1zM300 375h1v1h-1zM322 375h1v1h-1zM348 375h1v1h-1zM383 375h1v1h-1zM391 375h1v1h-1zM445 375h1v1h-1zM467 375h1v1h-1zM534 375h1v1h-1zM65 376h1v1h-1zM133 376h1v1h-1zM152 376h2v1h-2zM208 376h1v1h-1zM215 376h1v1h-1zM250 376h1v1h-1zM277 376h1v1h-1zM300 376h1v1h-1zM322 376h1v1h-1zM349 376h1v1h-1zM384 376h1v1h-1zM390 376h1v1h-1zM446 376h2v1h-2zM466 376h1v1h-1zM533 376h1v1h-1zM65 377h1v1h-1zM133 377h1v1h-1zM150 377h2v1h-2zM209 377h1v1h-1zM214 377h1v1h-1zM250 377h1v1h-1zM276 377h1v1h-1zM300 377h1v1h-1zM323 377h1v1h-1zM349 377h1v1h-1zM385 377h1v1h-1zM389 377h1v1h-1zM448 377h2v1h-2zM466 377h1v1h-1zM533 377h1v1h-1zM65 378h1v1h-1zM134 378h1v1h-1zM148 378h2v1h-2zM210 378h1v1h-1zM213 378h1v1h-1zM249 378h1v1h-1zM276 378h1v1h-1zM300 378h1v1h-1zM323 378h1v1h-1zM350 378h1v1h-1zM386 378h1v1h-1zM388 378h1v1h-1zM450 378h2v1h-2zM465 378h1v1h-1zM533 378h1v1h-1zM66 379h1v1h-1zM134 379h1v1h-1zM147 379h1v1h-1zM211 379h2v1h-2zM249 379h1v1h-1zM276 379h1v1h-1zM300 379h1v1h-1zM323 379h1v1h-1zM350 379h1v1h-1zM387 379h1v1h-1zM452 379h1v1h-1zM465 379h1v1h-1zM532 379h1v1h-1zM66 380h1v1h-1zM135 380h1v1h-1zM145 380h2v1h-2zM211 380h2v1h-2zM248 380h1v1h-1zM276 380h1v1h-1zM300 380h1v1h-1zM323 380h1v1h-1zM351 380h1v1h-1zM386 380h1v1h-1zM388 380h1v1h-1zM453 380h2v1h-2zM464 380h1v1h-1zM532 380h1v1h-1zM66 381h1v1h-1zM136 381h1v1h-1zM143 381h2v1h-2zM210 381h1v1h-1zM213 381h1v1h-1zM248 381h1v1h-1zM275 381h1v1h-1zM300 381h1v1h-1zM324 381h1v1h-1zM351 381h1v1h-1zM385 381h1v1h-1zM389 381h1v1h-1zM455 381h2v1h-2zM463 381h1v1h-1zM532 381h1v1h-1zM67 382h1v1h-1zM136 382h1v1h-1zM142 382h1v1h-1zM209 382h1v1h-1zM214 382h2v1h-2zM247 382h1v1h-1zM275 382h1v1h-1zM300 382h1v1h-1zM324 382h1v1h-1zM352 382h1v1h-1zM383 382h2v1h-2zM390 382h1v1h-1zM457 382h1v1h-1zM463 382h1v1h-1zM531 382h1v1h-1zM67 383h1v1h-1zM137 383h1v1h-1zM140 383h2v1h-2zM208 383h1v1h-1zM216 383h1v1h-1zM246 383h1v1h-1zM275 383h1v1h-1zM300 383h1v1h-1zM324 383h1v1h-1zM353 383h1v1h-1zM382 383h1v1h-1zM391 383h1v1h-1zM458 383h2v1h-2zM462 383h1v1h-1zM531 383h1v1h-1zM68 384h1v1h-1zM137 384h3v1h-3zM207 384h1v1h-1zM217 384h1v1h-1zM246 384h1v1h-1zM275 384h1v1h-1zM300 384h1v1h-1zM324 384h1v1h-1zM353 384h1v1h-1zM381 384h1v1h-1zM392 384h1v1h-1zM460 384h3v1h-3zM530 384h1v1h-1zM68 385h1v1h-1zM136 385h3v1h-3zM206 385h1v1h-1zM218 385h1v1h-1zM245 385h1v1h-1zM274 385h1v1h-1zM300 385h1v1h-1zM325 385h1v1h-1zM354 385h1v1h-1zM380 385h1v1h-1zM393 385h1v1h-1zM461 385h3v1h-3zM530 385h1v1h-1zM69 386h1v1h-1zM135 386h1v1h-1zM138 386h1v1h-1zM205 386h1v1h-1zM219 386h1v1h-1zM245 386h1v1h-1zM274 386h1v1h-1zM300 386h1v1h-1zM325 386h1v1h-1zM354 386h1v1h-1zM379 386h1v1h-1zM394 386h1v1h-1zM461 386h1v1h-1zM464 386h1v1h-1zM529 386h1v1h-1zM69 387h1v1h-1zM133 387h2v1h-2zM139 387h1v1h-1zM204 387h1v1h-1zM220 387h1v1h-1zM244 387h1v1h-1zM274 387h1v1h-1zM300 387h1v1h-1zM325 387h1v1h-1zM355 387h1v1h-1zM378 387h1v1h-1zM395 387h1v1h-1zM460 387h1v1h-1zM465 387h2v1h-2zM529 387h1v1h-1zM69 388h1v1h-1zM131 388h2v1h-2zM140 388h1v1h-1zM203 388h1v1h-1zM221 388h2v1h-2zM243 388h1v1h-1zM274 388h1v1h-1zM300 388h1v1h-1zM325 388h1v1h-1zM356 388h1v1h-1zM376 388h2v1h-2zM396 388h1v1h-1zM459 388h1v1h-1zM467 388h2v1h-2zM529 388h1v1h-1zM70 389h1v1h-1zM129 389h2v1h-2zM140 389h1v1h-1zM202 389h1v1h-1zM223 389h1v1h-1zM243 389h1v1h-1zM273 389h1v1h-1zM300 389h1v1h-1zM326 389h1v1h-1zM356 389h1v1h-1zM375 389h1v1h-1zM397 389h1v1h-1zM459 389h1v1h-1zM469 389h2v1h-2zM528 389h1v1h-1zM70 390h1v1h-1zM128 390h1v1h-1zM141 390h1v1h-1zM201 390h1v1h-1zM224 390h1v1h-1zM242 390h1v1h-1zM273 390h1v1h-1zM300 390h1v1h-1zM326 390h1v1h-1zM357 390h1v1h-1zM374 390h1v1h-1zM398 390h1v1h-1zM458 390h1v1h-1zM471 390h1v1h-1zM528 390h1v1h-1zM71 391h1v1h-1zM126 391h2v1h-2zM141 391h1v1h-1zM200 391h1v1h-1zM225 391h2v1h-2zM242 391h1v1h-1zM273 391h1v1h-1zM300 391h1v1h-1zM326 391h1v1h-1zM357 391h1v1h-1zM372 391h2v1h-2zM399 391h1v1h-1zM458 391h1v1h-1zM472 391h2v1h-2zM527 391h1v1h-1zM71 392h1v1h-1zM124 392h2v1h-2zM142 392h1v1h-1zM199 392h1v1h-1zM227 392h1v1h-1zM241 392h1v1h-1zM272 392h1v1h-1zM300 392h1v1h-1zM327 392h1v1h-1zM358 392h1v1h-1zM371 392h1v1h-1zM400 392h1v1h-1zM457 392h1v1h-1zM474 392h2v1h-2zM527 392h1v1h-1zM72 393h1v1h-1zM122 393h2v1h-2zM143 393h1v1h-1zM198 393h1v1h-1zM228 393h2v1h-2zM241 393h1v1h-1zM272 393h1v1h-1zM300 393h1v1h-1zM327 393h1v1h-1zM358 393h1v1h-1zM369 393h2v1h-2zM401 393h1v1h-1zM456 393h1v1h-1zM476 393h2v1h-2zM526 393h1v1h-1zM72 394h1v1h-1zM121 394h1v1h-1zM143 394h1v1h-1zM197 394h1v1h-1zM230 394h1v1h-1zM240 394h1v1h-1zM272 394h1v1h-1zM300 394h1v1h-1zM327 394h1v1h-1zM359 394h1v1h-1zM368 394h1v1h-1zM402 394h1v1h-1zM456 394h1v1h-1zM478 394h1v1h-1zM526 394h1v1h-1zM72 395h1v1h-1zM119 395h2v1h-2zM144 395h1v1h-1zM196 395h1v1h-1zM231 395h2v1h-2zM239 395h1v1h-1zM272 395h1v1h-1zM300 395h1v1h-1zM327 395h1v1h-1zM360 395h1v1h-1zM366 395h2v1h-2zM403 395h1v1h-1zM455 395h1v1h-1zM479 395h2v1h-2zM526 395h1v1h-1zM73 396h1v1h-1zM117 396h2v1h-2zM145 396h1v1h-1zM195 396h1v1h-1zM233 396h1v1h-1zM239 396h1v1h-1zM271 396h1v1h-1zM300 396h1v1h-1zM328 396h1v1h-1zM360 396h1v1h-1zM365 396h1v1h-1zM404 396h1v1h-1zM454 396h1v1h-1zM481 396h2v1h-2zM525 396h1v1h-1zM73 397h1v1h-1zM116 397h1v1h-1zM145 397h1v1h-1zM194 397h1v1h-1zM234 397h2v1h-2zM238 397h1v1h-1zM271 397h1v1h-1zM300 397h1v1h-1zM328 397h1v1h-1zM361 397h1v1h-1zM363 397h2v1h-2zM405 397h1v1h-1zM454 397h1v1h-1zM483 397h1v1h-1zM525 397h1v1h-1zM74 398h1v1h-1zM114 398h2v1h-2zM146 398h1v1h-1zM193 398h1v1h-1zM236 398h3v1h-3zM271 398h1v1h-1zM300 398h1v1h-1zM328 398h1v1h-1zM361 398h2v1h-2zM406 398h1v1h-1zM453 398h1v1h-1zM484 398h2v1h-2zM524 398h1v1h-1zM74 399h1v1h-1zM112 399h2v1h-2zM147 399h1v1h-1zM192 399h1v1h-1zM237 399h2v1h-2zM271 399h1v1h-1zM300 399h1v1h-1zM328 399h1v1h-1zM360 399h1v1h-1zM362 399h1v1h-1zM407 399h1v1h-1zM452 399h1v1h-1zM486 399h2v1h-2zM524 399h1v1h-1zM75 400h1v1h-1zM110 400h2v1h-2zM148 400h1v1h-1zM191 400h1v1h-1zM237 400h1v1h-1zM239 400h2v1h-2zM270 400h1v1h-1zM300 400h1v1h-1zM329 400h1v1h-1zM358 400h2v1h-2zM362 400h1v1h-1zM408 400h1v1h-1zM451 400h1v1h-1zM488 400h2v1h-2zM523 400h1v1h-1zM75 401h1v1h-1zM109 401h1v1h-1zM148 401h1v1h-1zM190 401h1v1h-1zM236 401h1v1h-1zM241 401h2v1h-2zM270 401h1v1h-1zM300 401h1v1h-1zM329 401h1v1h-1zM356 401h2v1h-2zM363 401h1v1h-1zM409 401h1v1h-1zM451 401h1v1h-1zM490 401h1v1h-1zM523 401h1v1h-1zM76 402h1v1h-1zM107 402h2v1h-2zM149 402h1v1h-1zM189 402h1v1h-1zM235 402h1v1h-1zM243 402h2v1h-2zM270 402h1v1h-1zM300 402h1v1h-1zM329 402h1v1h-1zM354 402h2v1h-2zM364 402h1v1h-1zM410 402h1v1h-1zM450 402h1v1h-1zM491 402h2v1h-2zM522 402h1v1h-1zM76 403h1v1h-1zM105 403h2v1h-2zM150 403h1v1h-1zM188 403h1v1h-1zM235 403h1v1h-1zM245 403h2v1h-2zM269 403h1v1h-1zM300 403h1v1h-1zM330 403h1v1h-1zM352 403h2v1h-2zM364 403h1v1h-1zM411 403h1v1h-1zM449 403h1v1h-1zM493 403h2v1h-2zM522 403h1v1h-1zM77 404h1v1h-1zM103 404h2v1h-2zM151 404h1v1h-1zM187 404h1v1h-1zM234 404h1v1h-1zM247 404h3v1h-3zM269 404h1v1h-1zM300 404h1v1h-1zM330 404h1v1h-1zM349 404h3v1h-3zM365 404h1v1h-1zM412 404h1v1h-1zM448 404h1v1h-1zM495 404h2v1h-2zM521 404h1v1h-1zM77 405h1v1h-1zM102 405h1v1h-1zM151 405h1v1h-1zM186 405h1v1h-1zM234 405h1v1h-1zM250 405h2v1h-2zM269 405h1v1h-1zM300 405h1v1h-1zM330 405h1v1h-1zM347 405h2v1h-2zM365 405h1v1h-1zM413 405h1v1h-1zM448 405h1v1h-1zM497 405h1v1h-1zM521 405h1v1h-1zM78 406h1v1h-1zM100 406h2v1h-2zM152 406h1v1h-1zM185 406h1v1h-1zM233 406h1v1h-1zM252 406h2v1h-2zM269 406h1v1h-1zM300 406h1v1h-1zM330 406h1v1h-1zM345 406h2v1h-2zM366 406h1v1h-1zM414 406h1v1h-1zM447 406h1v1h-1zM498 406h2v1h-2zM520 406h1v1h-1zM78 407h1v1h-1zM98 407h2v1h-2zM153 407h1v1h-1zM184 407h1v1h-1zM233 407h1v1h-1zM254 407h3v1h-3zM268 407h1v1h-1zM300 407h1v1h-1zM331 407h1v1h-1zM342 407h3v1h-3zM366 407h1v1h-1zM415 407h1v1h-1zM446 407h1v1h-1zM500 407h2v1h-2zM520 407h1v1h-1zM79 408h1v1h-1zM96 408h2v1h-2zM154 408h1v1h-1zM183 408h1v1h-1zM232 408h1v1h-1zM257 408h3v1h-3zM268 408h1v1h-1zM300 408h1v1h-1zM331 408h1v1h-1zM339 408h3v1h-3zM367 408h1v1h-1zM416 408h1v1h-1zM445 408h1v1h-1zM502 408h2v1h-2zM519 408h1v1h-1zM80 409h1v1h-1zM95 409h1v1h-1zM154 409h1v1h-1zM182 409h1v1h-1zM231 409h1v1h-1zM260 409h3v1h-3zM268 409h1v1h-1zM300 409h1v1h-1zM331 409h1v1h-1zM336 409h3v1h-3zM368 409h1v1h-1zM417 409h1v1h-1zM445 409h1v1h-1zM504 409h1v1h-1zM518 409h1v1h-1zM80 410h1v1h-1zM93 410h2v1h-2zM155 410h1v1h-1zM181 410h1v1h-1zM231 410h1v1h-1zM263 410h3v1h-3zM268 410h1v1h-1zM300 410h1v1h-1zM331 410h1v1h-1zM333 410h3v1h-3zM368 410h1v1h-1zM418 410h1v1h-1zM444 410h1v1h-1zM505 410h2v1h-2zM518 410h1v1h-1zM81 411h1v1h-1zM91 411h2v1h-2zM156 411h1v1h-1zM180 411h1v1h-1zM230 411h1v1h-1zM266 411h4v1h-4zM300 411h1v1h-1zM329 411h4v1h-4zM369 411h1v1h-1zM419 411h1v1h-1zM443 411h1v1h-1zM507 411h2v1h-2zM517 411h1v1h-1zM81 412h1v1h-1zM90 412h1v1h-1zM157 412h1v1h-1zM179 412h1v1h-1zM230 412h1v1h-1zM267 412h1v1h-1zM270 412h5v1h-5zM300 412h1v1h-1zM324 412h5v1h-5zM332 412h1v1h-1zM369 412h1v1h-1zM420 412h1v1h-1zM442 412h1v1h-1zM509 412h1v1h-1zM517 412h1v1h-1zM82 413h1v1h-1zM88 413h2v1h-2zM158 413h1v1h-1zM178 413h1v1h-1zM229 413h1v1h-1zM267 413h1v1h-1zM275 413h6v1h-6zM300 413h1v1h-1zM318 413h6v1h-6zM332 413h1v1h-1zM370 413h1v1h-1zM421 413h1v1h-1zM441 413h1v1h-1zM510 413h2v1h-2zM516 413h1v1h-1zM82 414h1v1h-1zM86 414h2v1h-2zM159 414h1v1h-1zM177 414h1v1h-1zM228 414h1v1h-1zM267 414h1v1h-1zM281 414h8v1h-8zM300 414h1v1h-1zM310 414h8v1h-8zM332 414h1v1h-1zM371 414h1v1h-1zM422 414h1v1h-1zM440 414h1v1h-1zM512 414h2v1h-2zM516 414h1v1h-1zM83 415h3v1h-3zM160 415h1v1h-1zM176 415h1v1h-1zM228 415h1v1h-1zM266 415h1v1h-1zM289 415h21v1h-21zM333 415h1v1h-1zM371 415h1v1h-1zM423 415h1v1h-1zM439 415h1v1h-1zM514 415h2v1h-2zM83 416h1v1h-1zM161 416h1v1h-1zM175 416h1v1h-1zM227 416h1v1h-1zM266 416h1v1h-1zM300 416h1v1h-1zM333 416h1v1h-1zM372 416h1v1h-1zM424 416h1v1h-1zM438 416h1v1h-1zM515 416h2v1h-2zM84 417h1v1h-1zM161 417h1v1h-1zM174 417h1v1h-1zM227 417h1v1h-1zM266 417h1v1h-1zM300 417h1v1h-1zM333 417h1v1h-1zM372 417h1v1h-1zM425 417h1v1h-1zM438 417h1v1h-1zM514 417h1v1h-1zM85 418h1v1h-1zM162 418h1v1h-1zM173 418h1v1h-1zM226 418h1v1h-1zM265 418h1v1h-1zM300 418h1v1h-1zM334 418h1v1h-1zM373 418h1v1h-1zM426 418h1v1h-1zM437 418h1v1h-1zM513 418h1v1h-1zM85 419h1v1h-1zM163 419h1v1h-1zM172 419h1v1h-1zM226 419h1v1h-1zM265 419h1v1h-1zM300 419h1v1h-1zM334 419h1v1h-1zM373 419h1v1h-1zM427 419h1v1h-1zM436 419h1v1h-1zM513 419h1v1h-1zM86 420h1v1h-1zM164 420h1v1h-1zM171 420h1v1h-1zM225 420h1v1h-1zM265 420h1v1h-1zM300 420h1v1h-1zM334 420h1v1h-1zM374 420h1v1h-1zM428 420h1v1h-1zM435 420h1v1h-1zM512 420h1v1h-1zM86 421h1v1h-1zM165 421h1v1h-1zM170 421h1v1h-1zM224 421h1v1h-1zM265 421h1v1h-1zM300 421h1v1h-1zM334 421h1v1h-1zM375 421h1v1h-1zM429 421h1v1h-1zM434 421h1v1h-1zM512 421h1v1h-1zM87 422h1v1h-1zM166 422h1v1h-1zM169 422h1v1h-1zM224 422h1v1h-1zM264 422h1v1h-1zM300 422h1v1h-1zM335 422h1v1h-1zM375 422h1v1h-1zM430 422h1v1h-1zM433 422h1v1h-1zM511 422h1v1h-1zM88 423h1v1h-1zM167 423h2v1h-2zM223 423h1v1h-1zM264 423h1v1h-1zM300 423h1v1h-1zM335 423h1v1h-1zM376 423h1v1h-1zM431 423h2v1h-2zM510 423h1v1h-1zM88 424h1v1h-1zM167 424h2v1h-2zM223 424h1v1h-1zM264 424h1v1h-1zM300 424h1v1h-1zM335 424h1v1h-1zM376 424h1v1h-1zM431 424h2v1h-2zM510 424h1v1h-1zM89 425h1v1h-1zM166 425h1v1h-1zM169 425h1v1h-1zM222 425h1v1h-1zM264 425h1v1h-1zM300 425h1v1h-1zM335 425h1v1h-1zM377 425h1v1h-1zM430 425h1v1h-1zM433 425h1v1h-1zM509 425h1v1h-1zM90 426h1v1h-1zM165 426h1v1h-1zM170 426h1v1h-1zM222 426h1v1h-1zM263 426h1v1h-1zM300 426h1v1h-1zM336 426h1v1h-1zM377 426h1v1h-1zM429 426h1v1h-1zM434 426h1v1h-1zM508 426h1v1h-1zM90 427h1v1h-1zM164 427h1v1h-1zM171 427h1v1h-1zM221 427h1v1h-1zM263 427h1v1h-1zM300 427h1v1h-1zM336 427h1v1h-1zM378 427h1v1h-1zM428 427h1v1h-1zM435 427h1v1h-1zM508 427h1v1h-1zM91 428h1v1h-1zM163 428h1v1h-1zM172 428h1v1h-1zM220 428h1v1h-1zM263 428h1v1h-1zM300 428h1v1h-1zM336 428h1v1h-1zM379 428h1v1h-1zM427 428h1v1h-1zM436 428h1v1h-1zM507 428h1v1h-1zM92 429h1v1h-1zM162 429h1v1h-1zM173 429h2v1h-2zM220 429h1v1h-1zM263 429h1v1h-1zM300 429h1v1h-1zM336 429h1v1h-1zM379 429h1v1h-1zM425 429h2v1h-2zM437 429h1v1h-1zM506 429h1v1h-1zM92 430h1v1h-1zM161 430h1v1h-1zM175 430h1v1h-1zM219 430h1v1h-1zM262 430h1v1h-1zM300 430h1v1h-1zM337 430h1v1h-1zM380 430h1v1h-1zM424 430h1v1h-1zM438 430h1v1h-1zM506 430h1v1h-1zM93 431h1v1h-1zM160 431h1v1h-1zM176 431h1v1h-1zM219 431h1v1h-1zM262 431h1v1h-1zM300 431h1v1h-1zM337 431h1v1h-1zM380 431h1v1h-1zM423 431h1v1h-1zM439 431h1v1h-1zM505 431h1v1h-1zM94 432h1v1h-1zM159 432h1v1h-1zM177 432h1v1h-1zM218 432h1v1h-1zM262 432h1v1h-1zM300 432h1v1h-1zM337 432h1v1h-1zM381 432h1v1h-1zM422 432h1v1h-1zM440 432h1v1h-1zM504 432h1v1h-1zM94 433h1v1h-1zM158 433h1v1h-1zM178 433h1v1h-1zM218 433h1v1h-1zM261 433h1v1h-1zM300 433h1v1h-1zM338 433h1v1h-1zM381 433h1v1h-1zM421 433h1v1h-1zM441 433h1v1h-1zM504 433h1v1h-1zM95 434h1v1h-1zM157 434h1v1h-1zM179 434h1v1h-1zM217 434h1v1h-1zM261 434h1v1h-1zM300 434h1v1h-1zM338 434h1v1h-1zM382 434h1v1h-1zM420 434h1v1h-1zM442 434h1v1h-1zM503 434h1v1h-1zM96 435h1v1h-1zM156 435h1v1h-1zM180 435h1v1h-1zM216 435h1v1h-1zM261 435h1v1h-1zM300 435h1v1h-1zM338 435h1v1h-1zM383 435h1v1h-1zM419 435h1v1h-1zM443 435h1v1h-1zM502 435h1v1h-1zM96 436h1v1h-1zM155 436h1v1h-1zM181 436h2v1h-2zM216 436h1v1h-1zM261 436h1v1h-1zM300 436h1v1h-1zM338 436h1v1h-1zM383 436h1v1h-1zM417 436h2v1h-2zM444 436h1v1h-1zM502 436h1v1h-1zM97 437h1v1h-1zM154 437h1v1h-1zM183 437h1v1h-1zM215 437h1v1h-1zM260 437h1v1h-1zM300 437h1v1h-1zM339 437h1v1h-1zM384 437h1v1h-1zM416 437h1v1h-1zM445 437h1v1h-1zM501 437h1v1h-1zM98 438h1v1h-1zM153 438h1v1h-1zM184 438h1v1h-1zM215 438h1v1h-1zM260 438h1v1h-1zM300 438h1v1h-1zM339 438h1v1h-1zM384 438h1v1h-1zM415 438h1v1h-1zM446 438h1v1h-1zM500 438h1v1h-1zM99 439h1v1h-1zM152 439h1v1h-1zM185 439h2v1h-2zM214 439h1v1h-1zM260 439h1v1h-1zM300 439h1v1h-1zM339 439h1v1h-1zM385 439h1v1h-1zM413 439h2v1h-2zM447 439h1v1h-1zM499 439h1v1h-1zM99 440h1v1h-1zM151 440h1v1h-1zM187 440h1v1h-1zM213 440h1v1h-1zM260 440h1v1h-1zM300 440h1v1h-1zM339 440h1v1h-1zM386 440h1v1h-1zM412 440h1v1h-1zM448 440h1v1h-1zM499 440h1v1h-1zM100 441h1v1h-1zM150 441h1v1h-1zM188 441h1v1h-1zM213 441h1v1h-1zM259 441h1v1h-1zM300 441h1v1h-1zM340 441h1v1h-1zM386 441h1v1h-1zM411 441h1v1h-1zM449 441h1v1h-1zM498 441h1v1h-1zM101 442h1v1h-1zM149 442h1v1h-1zM189 442h2v1h-2zM212 442h1v1h-1zM259 442h1v1h-1zM300 442h1v1h-1zM340 442h1v1h-1zM387 442h1v1h-1zM409 442h2v1h-2zM450 442h1v1h-1zM497 442h1v1h-1zM102 443h1v1h-1zM148 443h1v1h-1zM191 443h1v1h-1zM212 443h1v1h-1zM259 443h1v1h-1zM300 443h1v1h-1zM340 443h1v1h-1zM387 443h1v1h-1zM408 443h1v1h-1zM451 443h1v1h-1zM496 443h1v1h-1zM102 444h1v1h-1zM147 444h1v1h-1zM192 444h1v1h-1zM211 444h1v1h-1zM259 444h1v1h-1zM300 444h1v1h-1zM340 444h1v1h-1zM388 444h1v1h-1zM407 444h1v1h-1zM452 444h1v1h-1zM496 444h1v1h-1zM103 445h1v1h-1zM146 445h1v1h-1zM193 445h2v1h-2zM211 445h1v1h-1zM258 445h1v1h-1zM300 445h1v1h-1zM341 445h1v1h-1zM388 445h1v1h-1zM405 445h2v1h-2zM453 445h1v1h-1zM495 445h1v1h-1zM104 446h1v1h-1zM145 446h1v1h-1zM195 446h1v1h-1zM210 446h1v1h-1zM258 446h1v1h-1zM300 446h1v1h-1zM341 446h1v1h-1zM389 446h1v1h-1zM404 446h1v1h-1zM454 446h1v1h-1zM494 446h1v1h-1zM105 447h1v1h-1zM144 447h1v1h-1zM196 447h2v1h-2zM209 447h1v1h-1zM258 447h1v1h-1zM300 447h1v1h-1zM341 447h1v1h-1zM390 447h1v1h-1zM402 447h2v1h-2zM455 447h1v1h-1zM493 447h1v1h-1zM106 448h1v1h-1zM143 448h1v1h-1zM198 448h1v1h-1zM209 448h1v1h-1zM257 448h1v1h-1zM300 448h1v1h-1zM342 448h1v1h-1zM390 448h1v1h-1zM401 448h1v1h-1zM456 448h1v1h-1zM492 448h1v1h-1zM106 449h1v1h-1zM142 449h1v1h-1zM199 449h2v1h-2zM208 449h1v1h-1zM257 449h1v1h-1zM300 449h1v1h-1zM342 449h1v1h-1zM391 449h1v1h-1zM399 449h2v1h-2zM457 449h1v1h-1zM492 449h1v1h-1zM107 450h1v1h-1zM141 450h1v1h-1zM201 450h2v1h-2zM208 450h1v1h-1zM257 450h1v1h-1zM300 450h1v1h-1zM342 450h1v1h-1zM391 450h1v1h-1zM397 450h2v1h-2zM458 450h1v1h-1zM491 450h1v1h-1zM108 451h1v1h-1zM140 451h1v1h-1zM203 451h1v1h-1zM207 451h1v1h-1zM257 451h1v1h-1zM300 451h1v1h-1zM342 451h1v1h-1zM392 451h1v1h-1zM396 451h1v1h-1zM459 451h1v1h-1zM490 451h1v1h-1zM109 452h1v1h-1zM139 452h1v1h-1zM204 452h2v1h-2zM207 452h1v1h-1zM256 452h1v1h-1zM300 452h1v1h-1zM343 452h1v1h-1zM392 452h1v1h-1zM394 452h2v1h-2zM460 452h1v1h-1zM489 452h1v1h-1zM110 453h1v1h-1zM138 453h1v1h-1zM206 453h2v1h-2zM256 453h1v1h-1zM300 453h1v1h-1zM343 453h1v1h-1zM392 453h2v1h-2zM461 453h1v1h-1zM488 453h1v1h-1zM111 454h1v1h-1zM137 454h1v1h-1zM205 454h1v1h-1zM208 454h2v1h-2zM256 454h1v1h-1zM300 454h1v1h-1zM343 454h1v1h-1zM390 454h2v1h-2zM394 454h1v1h-1zM462 454h1v1h-1zM487 454h1v1h-1zM112 455h1v1h-1zM136 455h1v1h-1zM205 455h1v1h-1zM210 455h1v1h-1zM256 455h1v1h-1zM300 455h1v1h-1zM343 455h1v1h-1zM389 455h1v1h-1zM394 455h1v1h-1zM463 455h1v1h-1zM486 455h1v1h-1zM112 456h1v1h-1zM135 456h1v1h-1zM204 456h1v1h-1zM211 456h2v1h-2zM255 456h1v1h-1zM300 456h1v1h-1zM344 456h1v1h-1zM387 456h2v1h-2zM395 456h1v1h-1zM464 456h1v1h-1zM486 456h1v1h-1zM113 457h1v1h-1zM134 457h1v1h-1zM204 457h1v1h-1zM213 457h2v1h-2zM255 457h1v1h-1zM300 457h1v1h-1zM344 457h1v1h-1zM385 457h2v1h-2zM395 457h1v1h-1zM465 457h1v1h-1zM485 457h1v1h-1zM114 458h1v1h-1zM133 458h1v1h-1zM203 458h1v1h-1zM215 458h2v1h-2zM255 458h1v1h-1zM300 458h1v1h-1zM344 458h1v1h-1zM383 458h2v1h-2zM396 458h1v1h-1zM466 458h1v1h-1zM484 458h1v1h-1zM115 459h1v1h-1zM132 459h1v1h-1zM203 459h1v1h-1zM217 459h2v1h-2zM254 459h1v1h-1zM300 459h1v1h-1zM345 459h1v1h-1zM381 459h2v1h-2zM396 459h1v1h-1zM467 459h1v1h-1zM483 459h1v1h-1zM116 460h1v1h-1zM131 460h1v1h-1zM202 460h1v1h-1zM219 460h2v1h-2zM254 460h1v1h-1zM300 460h1v1h-1zM345 460h1v1h-1zM379 460h2v1h-2zM397 460h1v1h-1zM468 460h1v1h-1zM482 460h1v1h-1zM117 461h1v1h-1zM130 461h1v1h-1zM201 461h1v1h-1zM221 461h3v1h-3zM254 461h1v1h-1zM300 461h1v1h-1zM345 461h1v1h-1zM376 461h3v1h-3zM398 461h1v1h-1zM469 461h1v1h-1zM481 461h1v1h-1zM118 462h1v1h-1zM129 462h1v1h-1zM201 462h1v1h-1zM224 462h2v1h-2zM254 462h1v1h-1zM300 462h1v1h-1zM345 462h1v1h-1zM374 462h2v1h-2zM398 462h1v1h-1zM470 462h1v1h-1zM480 462h1v1h-1zM119 463h1v1h-1zM128 463h1v1h-1zM200 463h1v1h-1zM226 463h2v1h-2zM253 463h1v1h-1zM300 463h1v1h-1zM346 463h1v1h-1zM372 463h2v1h-2zM399 463h1v1h-1zM471 463h1v1h-1zM479 463h1v1h-1zM120 464h1v1h-1zM127 464h1v1h-1zM200 464h1v1h-1zM228 464h3v1h-3zM253 464h1v1h-1zM300 464h1v1h-1zM346 464h1v1h-1zM369 464h3v1h-3zM399 464h1v1h-1zM472 464h1v1h-1zM478 464h1v1h-1zM121 465h1v1h-1zM126 465h1v1h-1zM199 465h1v1h-1zM231 465h2v1h-2zM253 465h1v1h-1zM300 465h1v1h-1zM346 465h1v1h-1zM367 465h2v1h-2zM400 465h1v1h-1zM473 465h1v1h-1zM477 465h1v1h-1zM122 466h1v1h-1zM125 466h1v1h-1zM198 466h1v1h-1zM233 466h3v1h-3zM253 466h1v1h-1zM300 466h1v1h-1zM346 466h1v1h-1zM364 466h3v1h-3zM401 466h1v1h-1zM474 466h1v1h-1zM476 466h1v1h-1zM123 467h2v1h-2zM198 467h1v1h-1zM236 467h3v1h-3zM252 467h1v1h-1zM300 467h1v1h-1zM347 467h1v1h-1zM361 467h3v1h-3zM401 467h1v1h-1zM475 467h1v1h-1zM123 468h2v1h-2zM197 468h1v1h-1zM239 468h3v1h-3zM252 468h1v1h-1zM300 468h1v1h-1zM347 468h1v1h-1zM358 468h3v1h-3zM402 468h1v1h-1zM474 468h1v1h-1zM476 468h1v1h-1zM125 469h1v1h-1zM197 469h1v1h-1zM242 469h3v1h-3zM252 469h1v1h-1zM300 469h1v1h-1zM347 469h1v1h-1zM355 469h3v1h-3zM402 469h1v1h-1zM473 469h1v1h-1zM126 470h1v1h-1zM196 470h1v1h-1zM245 470h3v1h-3zM252 470h1v1h-1zM300 470h1v1h-1zM347 470h1v1h-1zM352 470h3v1h-3zM403 470h1v1h-1zM472 470h1v1h-1zM127 471h1v1h-1zM196 471h1v1h-1zM248 471h4v1h-4zM300 471h1v1h-1zM348 471h4v1h-4zM403 471h1v1h-1zM471 471h1v1h-1zM128 472h1v1h-1zM195 472h1v1h-1zM251 472h5v1h-5zM300 472h1v1h-1zM344 472h5v1h-5zM404 472h1v1h-1zM470 472h1v1h-1zM129 473h1v1h-1zM194 473h1v1h-1zM251 473h1v1h-1zM256 473h4v1h-4zM300 473h1v1h-1zM340 473h4v1h-4zM348 473h1v1h-1zM405 473h1v1h-1zM469 473h1v1h-1zM130 474h1v1h-1zM194 474h1v1h-1zM250 474h1v1h-1zM260 474h5v1h-5zM300 474h1v1h-1zM335 474h5v1h-5zM349 474h1v1h-1zM405 474h1v1h-1zM468 474h1v1h-1zM131 475h1v1h-1zM193 475h1v1h-1zM250 475h1v1h-1zM265 475h6v1h-6zM300 475h1v1h-1zM329 475h6v1h-6zM349 475h1v1h-1zM406 475h1v1h-1zM467 475h1v1h-1zM132 476h1v1h-1zM193 476h1v1h-1zM250 476h1v1h-1zM271 476h7v1h-7zM300 476h1v1h-1zM322 476h7v1h-7zM349 476h1v1h-1zM406 476h1v1h-1zM466 476h1v1h-1zM133 477h2v1h-2zM192 477h1v1h-1zM250 477h1v1h-1zM278 477h12v1h-12zM300 477h1v1h-1zM310 477h12v1h-12zM349 477h1v1h-1zM407 477h1v1h-1zM464 477h2v1h-2zM135 478h1v1h-1zM192 478h1v1h-1zM249 478h1v1h-1zM290 478h20v1h-20zM350 478h1v1h-1zM407 478h1v1h-1zM463 478h1v1h-1zM136 479h1v1h-1zM191 479h1v1h-1zM249 479h1v1h-1zM300 479h1v1h-1zM350 479h1v1h-1zM408 479h1v1h-1zM462 479h1v1h-1zM137 480h1v1h-1zM190 480h1v1h-1zM249 480h1v1h-1zM300 480h1v1h-1zM350 480h1v1h-1zM409 480h1v1h-1zM461 480h1v1h-1zM138 481h1v1h-1zM190 481h1v1h-1zM249 481h1v1h-1zM300 481h1v1h-1zM350 481h1v1h-1zM409 481h1v1h-1zM460 481h1v1h-1zM139 482h1v1h-1zM189 482h1v1h-1zM248 482h1v1h-1zM300 482h1v1h-1zM351 482h1v1h-1zM410 482h1v1h-1zM459 482h1v1h-1zM140 483h2v1h-2zM189 483h1v1h-1zM248 483h1v1h-1zM300 483h1v1h-1zM351 483h1v1h-1zM410 483h1v1h-1zM457 483h2v1h-2zM142 484h1v1h-1zM188 484h1v1h-1zM248 484h1v1h-1zM300 484h1v1h-1zM351 484h1v1h-1zM411 484h1v1h-1zM456 484h1v1h-1zM143 485h1v1h-1zM187 485h1v1h-1zM248 485h1v1h-1zM300 485h1v1h-1zM351 485h1v1h-1zM412 485h1v1h-1zM455 485h1v1h-1zM144 486h1v1h-1zM187 486h1v1h-1zM247 486h1v1h-1zM300 486h1v1h-1zM352 486h1v1h-1zM412 486h1v1h-1zM454 486h1v1h-1zM145 487h2v1h-2zM186 487h1v1h-1zM247 487h1v1h-1zM300 487h1v1h-1zM352 487h1v1h-1zM413 487h1v1h-1zM452 487h2v1h-2zM147 488h1v1h-1zM186 488h1v1h-1zM247 488h1v1h-1zM300 488h1v1h-1zM352 488h1v1h-1zM413 488h1v1h-1zM451 488h1v1h-1zM148 489h1v1h-1zM185 489h1v1h-1zM246 489h1v1h-1zM300 489h1v1h-1zM353 489h1v1h-1zM414 489h1v1h-1zM450 489h1v1h-1zM149 490h2v1h-2zM185 490h1v1h-1zM246 490h1v1h-1zM300 490h1v1h-1zM353 490h1v1h-1zM414 490h1v1h-1zM448 490h2v1h-2zM151 491h1v1h-1zM184 491h1v1h-1zM246 491h1v1h-1zM300 491h1v1h-1zM353 491h1v1h-1zM415 491h1v1h-1zM447 491h1v1h-1zM152 492h1v1h-1zM183 492h1v1h-1zM246 492h1v1h-1zM300 492h1v1h-1zM353 492h1v1h-1zM416 492h1v1h-1zM446 492h1v1h-1zM153 493h2v1h-2zM183 493h1v1h-1zM245 493h1v1h-1zM300 493h1v1h-1zM354 493h1v1h-1zM416 493h1v1h-1zM444 493h2v1h-2zM155 494h1v1h-1zM182 494h1v1h-1zM245 494h1v1h-1zM300 494h1v1h-1zM354 494h1v1h-1zM417 494h1v1h-1zM443 494h1v1h-1zM156 495h2v1h-2zM182 495h1v1h-1zM245 495h1v1h-1zM300 495h1v1h-1zM354 495h1v1h-1zM417 495h1v1h-1zM441 495h2v1h-2zM158 496h1v1h-1zM181 496h1v1h-1zM245 496h1v1h-1zM300 496h1v1h-1zM354 496h1v1h-1zM418 496h1v1h-1zM440 496h1v1h-1zM159 497h2v1h-2zM181 497h1v1h-1zM244 497h1v1h-1zM300 497h1v1h-1zM355 497h1v1h-1zM418 497h1v1h-1zM438 497h2v1h-2zM161 498h1v1h-1zM180 498h1v1h-1zM244 498h1v1h-1zM300 498h1v1h-1zM355 498h1v1h-1zM419 498h1v1h-1zM437 498h1v1h-1zM162 499h2v1h-2zM179 499h1v1h-1zM244 499h1v1h-1zM300 499h1v1h-1zM355 499h1v1h-1zM420 499h1v1h-1zM435 499h2v1h-2zM164 500h1v1h-1zM179 500h1v1h-1zM243 500h1v1h-1zM300 500h1v1h-1zM356 500h1v1h-1zM420 500h1v1h-1zM434 500h1v1h-1zM165 501h2v1h-2zM178 501h1v1h-1zM243 501h1v1h-1zM300 501h1v1h-1zM356 501h1v1h-1zM421 501h1v1h-1zM432 501h2v1h-2zM167 502h1v1h-1zM178 502h1v1h-1zM243 502h1v1h-1zM300 502h1v1h-1zM356 502h1v1h-1zM421 502h1v1h-1zM431 502h1v1h-1zM168 503h2v1h-2zM177 503h1v1h-1zM243 503h1v1h-1zM300 503h1v1h-1zM356 503h1v1h-1zM422 503h1v1h-1zM429 503h2v1h-2zM170 504h2v1h-2zM177 504h1v1h-1zM242 504h1v1h-1zM300 504h1v1h-1zM357 504h1v1h-1zM422 504h1v1h-1zM427 504h2v1h-2zM172 505h1v1h-1zM176 505h1v1h-1zM242 505h1v1h-1zM300 505h1v1h-1zM357 505h1v1h-1zM423 505h1v1h-1zM426 505h1v1h-1zM173 506h3v1h-3zM242 506h1v1h-1zM300 506h1v1h-1zM357 506h1v1h-1zM424 506h2v1h-2zM175 507h2v1h-2zM242 507h1v1h-1zM300 507h1v1h-1zM357 507h1v1h-1zM422 507h3v1h-3zM177 508h2v1h-2zM241 508h1v1h-1zM300 508h1v1h-1zM358 508h1v1h-1zM420 508h2v1h-2zM179 509h2v1h-2zM241 509h1v1h-1zM300 509h1v1h-1zM358 509h1v1h-1zM418 509h2v1h-2zM181 510h1v1h-1zM241 510h1v1h-1zM300 510h1v1h-1zM358 510h1v1h-1zM417 510h1v1h-1zM182 511h2v1h-2zM241 511h1v1h-1zM300 511h1v1h-1zM358 511h1v1h-1zM415 511h2v1h-2zM184 512h2v1h-2zM240 512h1v1h-1zM300 512h1v1h-1zM359 512h1v1h-1zM413 512h2v1h-2zM186 513h2v1h-2zM240 513h1v1h-1zM300 513h1v1h-1zM359 513h1v1h-1zM411 513h2v1h-2zM188 514h2v1h-2zM240 514h1v1h-1zM300 514h1v1h-1zM359 514h1v1h-1zM409 514h2v1h-2zM190 515h2v1h-2zM239 515h1v1h-1zM300 515h1v1h-1zM360 515h1v1h-1zM407 515h2v1h-2zM192 516h2v1h-2zM239 516h1v1h-1zM300 516h1v1h-1zM360 516h1v1h-1zM405 516h2v1h-2zM194 517h3v1h-3zM239 517h1v1h-1zM300 517h1v1h-1zM360 517h1v1h-1zM402 517h3v1h-3zM197 518h2v1h-2zM239 518h1v1h-1zM300 518h1v1h-1zM360 518h1v1h-1zM400 518h2v1h-2zM199 519h2v1h-2zM238 519h1v1h-1zM300 519h1v1h-1zM361 519h1v1h-1zM398 519h2v1h-2zM201 520h3v1h-3zM238 520h1v1h-1zM300 520h1v1h-1zM361 520h1v1h-1zM395 520h3v1h-3zM204 521h2v1h-2zM238 521h1v1h-1zM300 521h1v1h-1zM361 521h1v1h-1zM393 521h2v1h-2zM206 522h2v1h-2zM238 522h1v1h-1zM300 522h1v1h-1zM361 522h1v1h-1zM391 522h2v1h-2zM208 523h3v1h-3zM237 523h1v1h-1zM300 523h1v1h-1zM362 523h1v1h-1zM388 523h3v1h-3zM211 524h3v1h-3zM237 524h1v1h-1zM300 524h1v1h-1zM362 524h1v1h-1zM385 524h3v1h-3zM214 525h3v1h-3zM237 525h1v1h-1zM300 525h1v1h-1zM362 525h1v1h-1zM382 525h3v1h-3zM217 526h2v1h-2zM237 526h1v1h-1zM300 526h1v1h-1zM362 526h1v1h-1zM380 526h2v1h-2zM219 527h3v1h-3zM236 527h1v1h-1zM300 527h1v1h-1zM363 527h1v1h-1zM377 527h3v1h-3zM222 528h4v1h-4zM236 528h1v1h-1zM300 528h1v1h-1zM363 528h1v1h-1zM373 528h4v1h-4zM226 529h3v1h-3zM236 529h1v1h-1zM300 529h1v1h-1zM363 529h1v1h-1zM370 529h3v1h-3zM229 530h3v1h-3zM235 530h1v1h-1zM300 530h1v1h-1zM364 530h1v1h-1zM367 530h3v1h-3zM232 531h4v1h-4zM300 531h1v1h-1zM363 531h4v1h-4zM235 532h5v1h-5zM300 532h1v1h-1zM359 532h4v1h-4zM364 532h1v1h-1zM240 533h4v1h-4zM300 533h1v1h-1zM355 533h4v1h-4zM244 534h5v1h-5zM300 534h1v1h-1zM350 534h5v1h-5zM249 535h5v1h-5zM300 535h1v1h-1zM345 535h5v1h-5zM254 536h6v1h-6zM300 536h1v1h-1zM339 536h6v1h-6zM260 537h7v1h-7zM300 537h1v1h-1zM332 537h7v1h-7zM267 538h8v1h-8zM300 538h1v1h-1zM324 538h8v1h-8zM275 539h15v1h-15zM300 539h1v1h-1zM309 539h15v1h-15zM290 540h19v1h-19zM300 541h1v1h-1z" fill="#000" shape-rendering="crispEdges"/>
<path d="M300 291.2L296.96 296L294.8 300L292.8 304L291.6 308L290.4 312L289.4 316L288.4 320L287.6 324L287 328L286.4 332L286 336L285.2 340L284.6 344L284 348L283.6 352L283 356L282.6 360L282.2 364L281.8 368L281.5 372L281.5 408L280.5 409L280.5 452L281.5 453L281.5 460L282.5 461L282.5 468L283.2 472L283.6 476L284.4 480L285.6 484L287.6 488L291.2 492L295.2 494.6L300 497L304.8 494.6L308.8 492L312.4 488L314.4 484L316 480L317.2 476L318 472L318.5 468L318.5 457L319.5 456L319.5 442L320.5 441L320.5 410L319.5 409L319.5 384L319.2 380L318.8 376L318.4 372L318 368L317.6 364L317.2 360L316.6 356L316 352L315.6 348L315.2 344L314.8 340L314.2 336L313.8 332L313.2 328L312.4 324L311.6 320L310.6 316L309.6 312L308.4 308L306.8 304L305.2 300L303.2 296Z" fill="none" stroke="#e00000" stroke-width="3" stroke-linejoin="round" shape-rendering="crispEdges"/>
<rect x="86.5" y="280" width="52" height="22" fill="#fff"/><rect x="148.5" y="280" width="52" height="22" fill="#fff"/><rect x="211" y="280" width="52" height="22" fill="#fff"/>
<text x="282" y="34" style="font-family:Liberation Sans;font-size:20px;letter-spacing:1px;"><tspan class="h">1</tspan>80°</text><text x="142.7" y="64" style="font-family:Liberation Sans;font-size:20px;letter-spacing:1px;"><tspan class="h">1</tspan>50°</text><text x="413.3" y="64" style="font-family:Liberation Sans;font-size:20px;letter-spacing:1px;"><tspan class="h">1</tspan>50°</text><text x="44" y="163" style="font-family:Liberation Sans;font-size:20px;letter-spacing:1px;"><tspan class="h">1</tspan>20°</text><text x="512" y="163" style="font-family:Liberation Sans;font-size:20px;letter-spacing:1px;"><tspan class="h">1</tspan>20°</text><text x="13.6" y="298" style="font-family:Liberation Sans;font-size:20px;letter-spacing:1px;">90°</text><text x="553.5" y="298" style="font-family:Liberation Sans;font-size:20px;letter-spacing:1px;">90°</text><text x="88.3" y="298" style="font-family:Liberation Sans;font-size:20px;letter-spacing:1px;">4500</text><text x="149.8" y="298" style="font-family:Liberation Sans;font-size:20px;letter-spacing:1px;">3000</text><text x="213.5" y="298" style="font-family:Liberation Sans;font-size:20px;letter-spacing:0.8px;"><tspan class="h">1</tspan>500</text><text x="49.5" y="433" style="font-family:Liberation Sans;font-size:20px;letter-spacing:1px;">60°</text><text x="517.5" y="433" style="font-family:Liberation Sans;font-size:20px;letter-spacing:1px;">60°</text><text x="149" y="532" style="font-family:Liberation Sans;font-size:20px;letter-spacing:1px;">30°</text><text x="419" y="532" style="font-family:Liberation Sans;font-size:20px;letter-spacing:1px;">30°</text><text x="294" y="562" style="font-family:Liberation Sans;font-size:20px;letter-spacing:1px;">0°</text><text x="538.5" y="23" style="font-family:Liberation Sans;font-size:20px;letter-spacing:1px;"><tspan class="h">1</tspan>00%</text><text x="12" y="587.5" style="font-family:Liberation Sans;font-size:20px;letter-spacing:0.3px;">cd/klm</text><text x="497" y="564.5" style="font-family:Liberation Sans;font-size:20px;letter-spacing:0.75px;">C<tspan class="h">1</tspan>80 | C0</text><text x="485" y="588" style="font-family:Liberation Sans;font-size:20px;letter-spacing:0.75px;">C270 | C90</text><text x="515.3" y="23.9" style="font-family:Liberation Serif;font-size:22px;letter-spacing:0px;stroke-width:0.15px">η</text><text x="528.6" y="25" style="font-family:Liberation Serif;font-size:20px;letter-spacing:0px;stroke-width:0.15px">:</text><g fill="#000" stroke="#000" stroke-width="36"><path transform="translate(282.00 34.00) scale(0.009766 -0.009766)" d="M763 0L583 0L583 1147Q518 1085 465 1054Q412 1023 359 992Q306 961 223 930L223 1104Q374 1175 430.5 1225.5Q487 1276 543.5 1326.5Q600 1377 647 1466L763 1466Z"/><path transform="translate(142.70 64.00) scale(0.009766 -0.009766)" d="M763 0L583 0L583 1147Q518 1085 465 1054Q412 1023 359 992Q306 961 223 930L223 1104Q374 1175 430.5 1225.5Q487 1276 543.5 1326.5Q600 1377 647 1466L763 1466Z"/><path transform="translate(413.30 64.00) scale(0.009766 -0.009766)" d="M763 0L583 0L583 1147Q518 1085 465 1054Q412 1023 359 992Q306 961 223 930L223 1104Q374 1175 430.5 1225.5Q487 1276 543.5 1326.5Q600 1377 647 1466L763 1466Z"/><path transform="translate(44.00 163.00) scale(0.009766 -0.009766)" d="M763 0L583 0L583 1147Q518 1085 465 1054Q412 1023 359 992Q306 961 223 930L223 1104Q374 1175 430.5 1225.5Q487 1276 543.5 1326.5Q600 1377 647 1466L763 1466Z"/><path transform="translate(512.00 163.00) scale(0.009766 -0.009766)" d="M763 0L583 0L583 1147Q518 1085 465 1054Q412 1023 359 992Q306 961 223 930L223 1104Q374 1175 430.5 1225.5Q487 1276 543.5 1326.5Q600 1377 647 1466L763 1466Z"/><path transform="translate(213.50 298.00) scale(0.009766 -0.009766)" d="M763 0L583 0L583 1147Q518 1085 465 1054Q412 1023 359 992Q306 961 223 930L223 1104Q374 1175 430.5 1225.5Q487 1276 543.5 1326.5Q600 1377 647 1466L763 1466Z"/><path transform="translate(538.50 23.00) scale(0.009766 -0.009766)" d="M763 0L583 0L583 1147Q518 1085 465 1054Q412 1023 359 992Q306 961 223 930L223 1104Q374 1175 430.5 1225.5Q487 1276 543.5 1326.5Q600 1377 647 1466L763 1466Z"/><path transform="translate(512.20 564.50) scale(0.009766 -0.009766)" d="M763 0L583 0L583 1147Q518 1085 465 1054Q412 1023 359 992Q306 961 223 930L223 1104Q374 1175 430.5 1225.5Q487 1276 543.5 1326.5Q600 1377 647 1466L763 1466Z"/></g>
<path d="M446 557.5H483" stroke="#e00000" stroke-width="3"/>
<path d="M446 581.5H483" stroke="#0000c0" stroke-width="3"/>
<rect x="1.5" y="1.5" width="597" height="597" fill="none" stroke="#000" stroke-width="3"/>
</svg>
</body></html>
